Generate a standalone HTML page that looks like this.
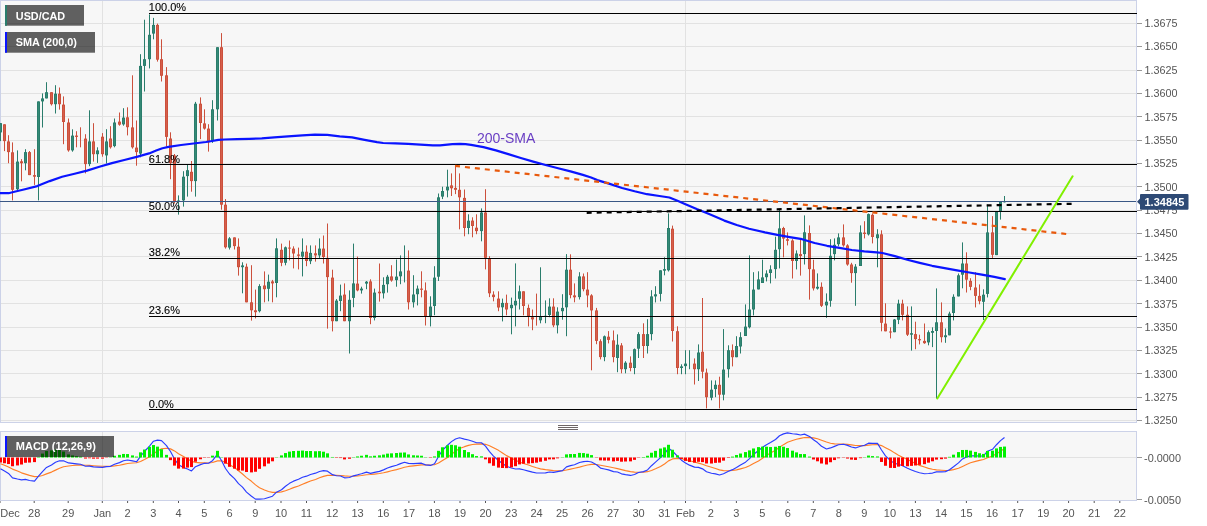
<!DOCTYPE html><html><head><meta charset="utf-8"><title>USD/CAD</title>
<style>html,body{margin:0;padding:0;background:#fff;}body{width:1207px;height:526px;overflow:hidden;}svg{display:block;will-change:transform;}text{font-family:"Liberation Sans",sans-serif;}</style></head><body>
<svg width="1207" height="526" viewBox="0 0 1207 526">
<rect x="0" y="0" width="1207" height="526" fill="#ffffff"/>
<rect x="0.5" y="0.5" width="1136" height="422" fill="#f7f7f7" stroke="#ccd2e8" stroke-width="1"/>
<rect x="0.5" y="431.5" width="1136" height="69" fill="#f7f7f7" stroke="#ccd2e8" stroke-width="1"/>
<line x1="1" y1="23.5" x2="1136" y2="23.5" stroke="#e2e2e2" stroke-width="1"/>
<line x1="1" y1="46.5" x2="1136" y2="46.5" stroke="#e2e2e2" stroke-width="1"/>
<line x1="1" y1="70.5" x2="1136" y2="70.5" stroke="#e2e2e2" stroke-width="1"/>
<line x1="1" y1="93.5" x2="1136" y2="93.5" stroke="#e2e2e2" stroke-width="1"/>
<line x1="1" y1="116.5" x2="1136" y2="116.5" stroke="#e2e2e2" stroke-width="1"/>
<line x1="1" y1="140.5" x2="1136" y2="140.5" stroke="#e2e2e2" stroke-width="1"/>
<line x1="1" y1="163.5" x2="1136" y2="163.5" stroke="#e2e2e2" stroke-width="1"/>
<line x1="1" y1="186.5" x2="1136" y2="186.5" stroke="#e2e2e2" stroke-width="1"/>
<line x1="1" y1="210.5" x2="1136" y2="210.5" stroke="#e2e2e2" stroke-width="1"/>
<line x1="1" y1="233.5" x2="1136" y2="233.5" stroke="#e2e2e2" stroke-width="1"/>
<line x1="1" y1="256.5" x2="1136" y2="256.5" stroke="#e2e2e2" stroke-width="1"/>
<line x1="1" y1="280.5" x2="1136" y2="280.5" stroke="#e2e2e2" stroke-width="1"/>
<line x1="1" y1="303.5" x2="1136" y2="303.5" stroke="#e2e2e2" stroke-width="1"/>
<line x1="1" y1="327.5" x2="1136" y2="327.5" stroke="#e2e2e2" stroke-width="1"/>
<line x1="1" y1="350.5" x2="1136" y2="350.5" stroke="#e2e2e2" stroke-width="1"/>
<line x1="1" y1="373.5" x2="1136" y2="373.5" stroke="#e2e2e2" stroke-width="1"/>
<line x1="1" y1="397.5" x2="1136" y2="397.5" stroke="#e2e2e2" stroke-width="1"/>
<line x1="1" y1="420.5" x2="1136" y2="420.5" stroke="#e2e2e2" stroke-width="1"/>
<line x1="102.5" y1="1" x2="102.5" y2="422" stroke="#e2e2e2" stroke-width="1"/>
<line x1="102.5" y1="432" x2="102.5" y2="500" stroke="#e2e2e2" stroke-width="1"/>
<line x1="685.5" y1="1" x2="685.5" y2="422" stroke="#e2e2e2" stroke-width="1"/>
<line x1="685.5" y1="432" x2="685.5" y2="500" stroke="#e2e2e2" stroke-width="1"/>
<line x1="1" y1="457.5" x2="1136" y2="457.5" stroke="#e2e2e2" stroke-width="1"/>
<g id="candles">
<rect x="0.0" y="123.1" width="1" height="18.0" fill="#2a7d6c"/>
<rect x="-1.0" y="123.1" width="3" height="9.3" fill="#2a7d6c"/>
<rect x="0.0" y="124.1" width="1" height="7.3" fill="#358a76"/>
<rect x="4.0" y="124.3" width="1" height="26.8" fill="#cc503c"/>
<rect x="3.0" y="124.3" width="3" height="16.8" fill="#cc503c"/>
<rect x="4.0" y="125.3" width="1" height="14.8" fill="#d6604c"/>
<rect x="8.0" y="135.2" width="1" height="28.0" fill="#cc503c"/>
<rect x="7.0" y="141.4" width="3" height="10.7" fill="#cc503c"/>
<rect x="8.0" y="142.4" width="1" height="8.7" fill="#d6604c"/>
<rect x="12.0" y="142.4" width="1" height="58.0" fill="#cc503c"/>
<rect x="11.0" y="152.3" width="3" height="37.5" fill="#cc503c"/>
<rect x="12.0" y="153.3" width="1" height="35.5" fill="#d6604c"/>
<rect x="17.0" y="150.4" width="1" height="40.0" fill="#2a7d6c"/>
<rect x="16.0" y="161.6" width="3" height="27.6" fill="#2a7d6c"/>
<rect x="17.0" y="162.6" width="1" height="25.6" fill="#358a76"/>
<rect x="21.0" y="159.1" width="1" height="22.2" fill="#cc503c"/>
<rect x="20.0" y="161.3" width="3" height="1.9" fill="#cc503c"/>
<rect x="25.0" y="149.2" width="1" height="21.1" fill="#2a7d6c"/>
<rect x="24.0" y="152.1" width="3" height="11.1" fill="#2a7d6c"/>
<rect x="25.0" y="153.1" width="1" height="9.1" fill="#358a76"/>
<rect x="29.0" y="151.0" width="1" height="24.1" fill="#cc503c"/>
<rect x="28.0" y="152.1" width="3" height="23.0" fill="#cc503c"/>
<rect x="29.0" y="153.1" width="1" height="21.0" fill="#d6604c"/>
<rect x="34.0" y="149.2" width="1" height="35.7" fill="#cc503c"/>
<rect x="33.0" y="175.1" width="3" height="1.6" fill="#cc503c"/>
<rect x="38.0" y="101.4" width="1" height="99.0" fill="#2a7d6c"/>
<rect x="37.0" y="101.4" width="3" height="75.6" fill="#2a7d6c"/>
<rect x="38.0" y="102.4" width="1" height="73.6" fill="#358a76"/>
<rect x="42.0" y="93.4" width="1" height="34.1" fill="#2a7d6c"/>
<rect x="41.0" y="98.4" width="3" height="3.0" fill="#2a7d6c"/>
<rect x="42.0" y="99.4" width="1" height="1.0" fill="#358a76"/>
<rect x="46.0" y="82.2" width="1" height="16.2" fill="#2a7d6c"/>
<rect x="45.0" y="92.2" width="3" height="6.2" fill="#2a7d6c"/>
<rect x="46.0" y="93.2" width="1" height="4.2" fill="#358a76"/>
<rect x="51.0" y="92.2" width="1" height="13.3" fill="#cc503c"/>
<rect x="50.0" y="92.2" width="3" height="12.0" fill="#cc503c"/>
<rect x="51.0" y="93.2" width="1" height="10.0" fill="#d6604c"/>
<rect x="55.0" y="85.2" width="1" height="28.3" fill="#2a7d6c"/>
<rect x="54.0" y="93.7" width="3" height="10.5" fill="#2a7d6c"/>
<rect x="55.0" y="94.7" width="1" height="8.5" fill="#358a76"/>
<rect x="59.0" y="87.5" width="1" height="22.1" fill="#cc503c"/>
<rect x="58.0" y="93.7" width="3" height="10.5" fill="#cc503c"/>
<rect x="59.0" y="94.7" width="1" height="8.5" fill="#d6604c"/>
<rect x="63.0" y="96.4" width="1" height="47.8" fill="#cc503c"/>
<rect x="62.0" y="104.6" width="3" height="17.4" fill="#cc503c"/>
<rect x="63.0" y="105.6" width="1" height="15.4" fill="#d6604c"/>
<rect x="68.0" y="118.5" width="1" height="33.2" fill="#cc503c"/>
<rect x="67.0" y="122.5" width="3" height="27.9" fill="#cc503c"/>
<rect x="68.0" y="123.5" width="1" height="25.9" fill="#d6604c"/>
<rect x="72.0" y="129.3" width="1" height="22.4" fill="#2a7d6c"/>
<rect x="71.0" y="135.6" width="3" height="14.8" fill="#2a7d6c"/>
<rect x="72.0" y="136.6" width="1" height="12.8" fill="#358a76"/>
<rect x="76.0" y="131.2" width="1" height="16.1" fill="#cc503c"/>
<rect x="75.0" y="135.6" width="3" height="1.3" fill="#cc503c"/>
<rect x="80.0" y="127.3" width="1" height="20.0" fill="#cc503c"/>
<rect x="85.0" y="134.2" width="1" height="39.2" fill="#cc503c"/>
<rect x="84.0" y="138.6" width="3" height="25.5" fill="#cc503c"/>
<rect x="85.0" y="139.6" width="1" height="23.5" fill="#d6604c"/>
<rect x="89.0" y="110.3" width="1" height="55.9" fill="#2a7d6c"/>
<rect x="88.0" y="141.4" width="3" height="22.7" fill="#2a7d6c"/>
<rect x="89.0" y="142.4" width="1" height="20.7" fill="#358a76"/>
<rect x="93.0" y="123.2" width="1" height="38.4" fill="#cc503c"/>
<rect x="92.0" y="141.4" width="3" height="12.8" fill="#cc503c"/>
<rect x="93.0" y="142.4" width="1" height="10.8" fill="#d6604c"/>
<rect x="97.0" y="147.3" width="1" height="15.6" fill="#2a7d6c"/>
<rect x="96.0" y="150.4" width="3" height="3.8" fill="#2a7d6c"/>
<rect x="97.0" y="151.4" width="1" height="1.8" fill="#358a76"/>
<rect x="102.0" y="133.1" width="1" height="23.6" fill="#cc503c"/>
<rect x="101.0" y="136.7" width="3" height="17.5" fill="#cc503c"/>
<rect x="102.0" y="137.7" width="1" height="15.5" fill="#d6604c"/>
<rect x="106.0" y="129.2" width="1" height="34.3" fill="#2a7d6c"/>
<rect x="105.0" y="141.4" width="3" height="14.0" fill="#2a7d6c"/>
<rect x="106.0" y="142.4" width="1" height="12.0" fill="#358a76"/>
<rect x="110.0" y="126.2" width="1" height="22.4" fill="#cc503c"/>
<rect x="109.0" y="138.5" width="3" height="8.8" fill="#cc503c"/>
<rect x="110.0" y="139.5" width="1" height="6.8" fill="#d6604c"/>
<rect x="114.0" y="118.5" width="1" height="28.8" fill="#2a7d6c"/>
<rect x="113.0" y="122.5" width="3" height="23.6" fill="#2a7d6c"/>
<rect x="114.0" y="123.5" width="1" height="21.6" fill="#358a76"/>
<rect x="119.0" y="112.5" width="1" height="13.2" fill="#cc503c"/>
<rect x="118.0" y="121.6" width="3" height="3.1" fill="#cc503c"/>
<rect x="119.0" y="122.6" width="1" height="1.1" fill="#d6604c"/>
<rect x="123.0" y="108.2" width="1" height="17.5" fill="#2a7d6c"/>
<rect x="122.0" y="117.6" width="3" height="6.8" fill="#2a7d6c"/>
<rect x="123.0" y="118.6" width="1" height="4.8" fill="#358a76"/>
<rect x="127.0" y="107.3" width="1" height="28.1" fill="#cc503c"/>
<rect x="126.0" y="117.3" width="3" height="9.9" fill="#cc503c"/>
<rect x="127.0" y="118.3" width="1" height="7.9" fill="#d6604c"/>
<rect x="132.0" y="75.3" width="1" height="73.3" fill="#cc503c"/>
<rect x="131.0" y="127.4" width="3" height="19.9" fill="#cc503c"/>
<rect x="132.0" y="128.4" width="1" height="17.9" fill="#d6604c"/>
<rect x="136.0" y="120.5" width="1" height="45.2" fill="#cc503c"/>
<rect x="135.0" y="147.6" width="3" height="4.5" fill="#cc503c"/>
<rect x="136.0" y="148.6" width="1" height="2.5" fill="#d6604c"/>
<rect x="140.0" y="54.2" width="1" height="103.1" fill="#2a7d6c"/>
<rect x="139.0" y="65.9" width="3" height="87.7" fill="#2a7d6c"/>
<rect x="140.0" y="66.9" width="1" height="85.7" fill="#358a76"/>
<rect x="144.0" y="19.7" width="1" height="71.8" fill="#2a7d6c"/>
<rect x="143.0" y="59.2" width="3" height="6.7" fill="#2a7d6c"/>
<rect x="144.0" y="60.2" width="1" height="4.7" fill="#358a76"/>
<rect x="149.0" y="14.4" width="1" height="54.0" fill="#2a7d6c"/>
<rect x="148.0" y="34.8" width="3" height="24.4" fill="#2a7d6c"/>
<rect x="149.0" y="35.8" width="1" height="22.4" fill="#358a76"/>
<rect x="153.0" y="17.9" width="1" height="21.4" fill="#2a7d6c"/>
<rect x="152.0" y="24.9" width="3" height="8.7" fill="#2a7d6c"/>
<rect x="153.0" y="25.9" width="1" height="6.7" fill="#358a76"/>
<rect x="157.0" y="23.6" width="1" height="38.0" fill="#cc503c"/>
<rect x="156.0" y="24.9" width="3" height="34.8" fill="#cc503c"/>
<rect x="157.0" y="25.9" width="1" height="32.8" fill="#d6604c"/>
<rect x="161.0" y="39.3" width="1" height="42.2" fill="#cc503c"/>
<rect x="160.0" y="59.2" width="3" height="16.6" fill="#cc503c"/>
<rect x="161.0" y="60.2" width="1" height="14.6" fill="#d6604c"/>
<rect x="166.0" y="67.1" width="1" height="79.5" fill="#cc503c"/>
<rect x="165.0" y="75.3" width="3" height="61.6" fill="#cc503c"/>
<rect x="166.0" y="76.3" width="1" height="59.6" fill="#d6604c"/>
<rect x="170.0" y="132.3" width="1" height="46.9" fill="#cc503c"/>
<rect x="169.0" y="138.5" width="3" height="24.6" fill="#cc503c"/>
<rect x="170.0" y="139.5" width="1" height="22.6" fill="#d6604c"/>
<rect x="174.0" y="154.0" width="1" height="49.6" fill="#cc503c"/>
<rect x="173.0" y="155.5" width="3" height="46.1" fill="#cc503c"/>
<rect x="174.0" y="156.5" width="1" height="44.1" fill="#d6604c"/>
<rect x="178.0" y="195.4" width="1" height="19.2" fill="#2a7d6c"/>
<rect x="177.0" y="200.5" width="3" height="1.5" fill="#2a7d6c"/>
<rect x="183.0" y="171.2" width="1" height="35.4" fill="#2a7d6c"/>
<rect x="182.0" y="176.7" width="3" height="23.7" fill="#2a7d6c"/>
<rect x="183.0" y="177.7" width="1" height="21.7" fill="#358a76"/>
<rect x="187.0" y="164.9" width="1" height="31.7" fill="#2a7d6c"/>
<rect x="186.0" y="170.2" width="3" height="5.9" fill="#2a7d6c"/>
<rect x="187.0" y="171.2" width="1" height="3.9" fill="#358a76"/>
<rect x="191.0" y="161.0" width="1" height="30.7" fill="#cc503c"/>
<rect x="190.0" y="171.8" width="3" height="9.3" fill="#cc503c"/>
<rect x="191.0" y="172.8" width="1" height="7.3" fill="#d6604c"/>
<rect x="195.0" y="101.9" width="1" height="94.7" fill="#2a7d6c"/>
<rect x="194.0" y="103.7" width="3" height="77.4" fill="#2a7d6c"/>
<rect x="195.0" y="104.7" width="1" height="75.4" fill="#358a76"/>
<rect x="200.0" y="97.4" width="1" height="41.7" fill="#cc503c"/>
<rect x="199.0" y="103.7" width="3" height="19.3" fill="#cc503c"/>
<rect x="200.0" y="104.7" width="1" height="17.3" fill="#d6604c"/>
<rect x="204.0" y="109.3" width="1" height="20.3" fill="#cc503c"/>
<rect x="203.0" y="123.4" width="3" height="5.2" fill="#cc503c"/>
<rect x="204.0" y="124.4" width="1" height="3.2" fill="#d6604c"/>
<rect x="208.0" y="124.2" width="1" height="27.4" fill="#cc503c"/>
<rect x="207.0" y="128.6" width="3" height="13.7" fill="#cc503c"/>
<rect x="208.0" y="129.6" width="1" height="11.7" fill="#d6604c"/>
<rect x="212.0" y="100.2" width="1" height="42.7" fill="#2a7d6c"/>
<rect x="211.0" y="109.3" width="3" height="31.7" fill="#2a7d6c"/>
<rect x="212.0" y="110.3" width="1" height="29.7" fill="#358a76"/>
<rect x="217.0" y="47.2" width="1" height="73.3" fill="#2a7d6c"/>
<rect x="216.0" y="47.2" width="3" height="62.1" fill="#2a7d6c"/>
<rect x="217.0" y="48.2" width="1" height="60.1" fill="#358a76"/>
<rect x="221.0" y="33.1" width="1" height="176.6" fill="#cc503c"/>
<rect x="220.0" y="47.2" width="3" height="157.5" fill="#cc503c"/>
<rect x="221.0" y="48.2" width="1" height="155.5" fill="#d6604c"/>
<rect x="225.0" y="199.1" width="1" height="49.5" fill="#cc503c"/>
<rect x="224.0" y="204.7" width="3" height="42.6" fill="#cc503c"/>
<rect x="225.0" y="205.7" width="1" height="40.6" fill="#d6604c"/>
<rect x="229.0" y="237.1" width="1" height="12.4" fill="#2a7d6c"/>
<rect x="228.0" y="238.4" width="3" height="9.2" fill="#2a7d6c"/>
<rect x="229.0" y="239.4" width="1" height="7.2" fill="#358a76"/>
<rect x="234.0" y="237.4" width="1" height="12.1" fill="#cc503c"/>
<rect x="233.0" y="237.4" width="3" height="8.7" fill="#cc503c"/>
<rect x="234.0" y="238.4" width="1" height="6.7" fill="#d6604c"/>
<rect x="238.0" y="238.4" width="1" height="37.2" fill="#cc503c"/>
<rect x="237.0" y="246.7" width="3" height="20.5" fill="#cc503c"/>
<rect x="238.0" y="247.7" width="1" height="18.5" fill="#d6604c"/>
<rect x="242.0" y="262.3" width="1" height="31.0" fill="#2a7d6c"/>
<rect x="241.0" y="265.4" width="3" height="1.8" fill="#2a7d6c"/>
<rect x="246.0" y="263.6" width="1" height="38.7" fill="#cc503c"/>
<rect x="245.0" y="266.7" width="3" height="35.6" fill="#cc503c"/>
<rect x="246.0" y="267.7" width="1" height="33.6" fill="#d6604c"/>
<rect x="251.0" y="265.2" width="1" height="55.4" fill="#cc503c"/>
<rect x="250.0" y="302.3" width="3" height="8.0" fill="#cc503c"/>
<rect x="251.0" y="303.3" width="1" height="6.0" fill="#d6604c"/>
<rect x="255.0" y="289.6" width="1" height="28.8" fill="#cc503c"/>
<rect x="254.0" y="310.3" width="3" height="1.9" fill="#cc503c"/>
<rect x="259.0" y="284.2" width="1" height="28.2" fill="#2a7d6c"/>
<rect x="258.0" y="286.1" width="3" height="25.1" fill="#2a7d6c"/>
<rect x="259.0" y="287.1" width="1" height="23.1" fill="#358a76"/>
<rect x="264.0" y="271.4" width="1" height="30.9" fill="#cc503c"/>
<rect x="263.0" y="285.5" width="3" height="3.7" fill="#cc503c"/>
<rect x="264.0" y="286.5" width="1" height="1.7" fill="#d6604c"/>
<rect x="268.0" y="274.6" width="1" height="26.7" fill="#2a7d6c"/>
<rect x="267.0" y="281.7" width="3" height="7.1" fill="#2a7d6c"/>
<rect x="268.0" y="282.7" width="1" height="5.1" fill="#358a76"/>
<rect x="272.0" y="279.9" width="1" height="22.4" fill="#cc503c"/>
<rect x="271.0" y="281.4" width="3" height="2.0" fill="#cc503c"/>
<rect x="276.0" y="238.4" width="1" height="58.9" fill="#2a7d6c"/>
<rect x="275.0" y="248.3" width="3" height="34.7" fill="#2a7d6c"/>
<rect x="276.0" y="249.3" width="1" height="32.7" fill="#358a76"/>
<rect x="281.0" y="243.6" width="1" height="22.6" fill="#cc503c"/>
<rect x="280.0" y="249.8" width="3" height="13.0" fill="#cc503c"/>
<rect x="281.0" y="250.8" width="1" height="11.0" fill="#d6604c"/>
<rect x="285.0" y="246.5" width="1" height="18.8" fill="#2a7d6c"/>
<rect x="284.0" y="247.3" width="3" height="15.5" fill="#2a7d6c"/>
<rect x="285.0" y="248.3" width="1" height="13.5" fill="#358a76"/>
<rect x="289.0" y="240.5" width="1" height="19.9" fill="#cc503c"/>
<rect x="288.0" y="247.6" width="3" height="1.0" fill="#cc503c"/>
<rect x="293.0" y="246.3" width="1" height="22.1" fill="#cc503c"/>
<rect x="292.0" y="248.6" width="3" height="4.9" fill="#cc503c"/>
<rect x="293.0" y="249.6" width="1" height="2.9" fill="#d6604c"/>
<rect x="298.0" y="247.6" width="1" height="21.8" fill="#cc503c"/>
<rect x="297.0" y="254.5" width="3" height="1.3" fill="#cc503c"/>
<rect x="302.0" y="238.4" width="1" height="38.0" fill="#2a7d6c"/>
<rect x="301.0" y="251.7" width="3" height="4.9" fill="#2a7d6c"/>
<rect x="302.0" y="252.7" width="1" height="2.9" fill="#358a76"/>
<rect x="306.0" y="245.4" width="1" height="20.8" fill="#cc503c"/>
<rect x="305.0" y="251.7" width="3" height="9.3" fill="#cc503c"/>
<rect x="306.0" y="252.7" width="1" height="7.3" fill="#d6604c"/>
<rect x="310.0" y="245.4" width="1" height="18.7" fill="#2a7d6c"/>
<rect x="309.0" y="252.9" width="3" height="8.3" fill="#2a7d6c"/>
<rect x="310.0" y="253.9" width="1" height="6.3" fill="#358a76"/>
<rect x="315.0" y="245.4" width="1" height="16.2" fill="#cc503c"/>
<rect x="314.0" y="253.3" width="3" height="2.1" fill="#cc503c"/>
<rect x="319.0" y="238.4" width="1" height="19.5" fill="#2a7d6c"/>
<rect x="318.0" y="248.6" width="3" height="6.8" fill="#2a7d6c"/>
<rect x="319.0" y="249.6" width="1" height="4.8" fill="#358a76"/>
<rect x="323.0" y="235.5" width="1" height="28.0" fill="#cc503c"/>
<rect x="322.0" y="248.6" width="3" height="8.4" fill="#cc503c"/>
<rect x="323.0" y="249.6" width="1" height="6.4" fill="#d6604c"/>
<rect x="327.0" y="223.5" width="1" height="105.1" fill="#cc503c"/>
<rect x="326.0" y="257.9" width="3" height="19.2" fill="#cc503c"/>
<rect x="327.0" y="258.9" width="1" height="17.2" fill="#d6604c"/>
<rect x="332.0" y="269.7" width="1" height="61.7" fill="#cc503c"/>
<rect x="331.0" y="277.6" width="3" height="43.6" fill="#cc503c"/>
<rect x="332.0" y="278.6" width="1" height="41.6" fill="#d6604c"/>
<rect x="336.0" y="299.1" width="1" height="22.1" fill="#2a7d6c"/>
<rect x="335.0" y="300.6" width="3" height="20.6" fill="#2a7d6c"/>
<rect x="336.0" y="301.6" width="1" height="18.6" fill="#358a76"/>
<rect x="340.0" y="284.6" width="1" height="26.6" fill="#2a7d6c"/>
<rect x="339.0" y="295.6" width="3" height="5.4" fill="#2a7d6c"/>
<rect x="340.0" y="296.6" width="1" height="3.4" fill="#358a76"/>
<rect x="344.0" y="283.4" width="1" height="37.8" fill="#cc503c"/>
<rect x="343.0" y="294.6" width="3" height="26.6" fill="#cc503c"/>
<rect x="344.0" y="295.6" width="1" height="24.6" fill="#d6604c"/>
<rect x="349.0" y="290.4" width="1" height="63.1" fill="#2a7d6c"/>
<rect x="348.0" y="299.8" width="3" height="21.4" fill="#2a7d6c"/>
<rect x="349.0" y="300.8" width="1" height="19.4" fill="#358a76"/>
<rect x="353.0" y="243.6" width="1" height="63.6" fill="#2a7d6c"/>
<rect x="352.0" y="283.4" width="3" height="14.5" fill="#2a7d6c"/>
<rect x="353.0" y="284.4" width="1" height="12.5" fill="#358a76"/>
<rect x="357.0" y="256.6" width="1" height="34.7" fill="#cc503c"/>
<rect x="356.0" y="283.6" width="3" height="6.8" fill="#cc503c"/>
<rect x="357.0" y="284.6" width="1" height="4.8" fill="#d6604c"/>
<rect x="361.0" y="286.7" width="1" height="6.9" fill="#2a7d6c"/>
<rect x="360.0" y="288.6" width="3" height="1.8" fill="#2a7d6c"/>
<rect x="366.0" y="281.0" width="1" height="8.2" fill="#2a7d6c"/>
<rect x="365.0" y="281.7" width="3" height="1.9" fill="#2a7d6c"/>
<rect x="370.0" y="279.3" width="1" height="44.9" fill="#cc503c"/>
<rect x="369.0" y="281.4" width="3" height="36.6" fill="#cc503c"/>
<rect x="370.0" y="282.4" width="1" height="34.6" fill="#d6604c"/>
<rect x="374.0" y="288.6" width="1" height="31.8" fill="#2a7d6c"/>
<rect x="373.0" y="292.6" width="3" height="25.4" fill="#2a7d6c"/>
<rect x="374.0" y="293.6" width="1" height="23.4" fill="#358a76"/>
<rect x="379.0" y="263.5" width="1" height="38.1" fill="#cc503c"/>
<rect x="378.0" y="291.7" width="3" height="1.6" fill="#cc503c"/>
<rect x="383.0" y="277.3" width="1" height="21.2" fill="#2a7d6c"/>
<rect x="382.0" y="284.9" width="3" height="8.4" fill="#2a7d6c"/>
<rect x="383.0" y="285.9" width="1" height="6.4" fill="#358a76"/>
<rect x="387.0" y="274.9" width="1" height="17.7" fill="#2a7d6c"/>
<rect x="386.0" y="276.7" width="3" height="7.5" fill="#2a7d6c"/>
<rect x="387.0" y="277.7" width="1" height="5.5" fill="#358a76"/>
<rect x="391.0" y="265.2" width="1" height="16.5" fill="#cc503c"/>
<rect x="390.0" y="276.4" width="3" height="4.1" fill="#cc503c"/>
<rect x="391.0" y="277.4" width="1" height="2.1" fill="#d6604c"/>
<rect x="396.0" y="259.5" width="1" height="27.2" fill="#2a7d6c"/>
<rect x="395.0" y="276.6" width="3" height="3.5" fill="#2a7d6c"/>
<rect x="396.0" y="277.6" width="1" height="1.5" fill="#358a76"/>
<rect x="400.0" y="255.4" width="1" height="28.8" fill="#2a7d6c"/>
<rect x="399.0" y="271.4" width="3" height="4.9" fill="#2a7d6c"/>
<rect x="400.0" y="272.4" width="1" height="2.9" fill="#358a76"/>
<rect x="404.0" y="245.4" width="1" height="37.0" fill="#2a7d6c"/>
<rect x="408.0" y="250.4" width="1" height="59.1" fill="#cc503c"/>
<rect x="407.0" y="270.6" width="3" height="31.7" fill="#cc503c"/>
<rect x="408.0" y="271.6" width="1" height="29.7" fill="#d6604c"/>
<rect x="413.0" y="275.2" width="1" height="32.3" fill="#2a7d6c"/>
<rect x="412.0" y="294.5" width="3" height="7.8" fill="#2a7d6c"/>
<rect x="413.0" y="295.5" width="1" height="5.8" fill="#358a76"/>
<rect x="417.0" y="285.5" width="1" height="19.9" fill="#2a7d6c"/>
<rect x="416.0" y="288.6" width="3" height="5.6" fill="#2a7d6c"/>
<rect x="417.0" y="289.6" width="1" height="3.6" fill="#358a76"/>
<rect x="421.0" y="271.3" width="1" height="26.0" fill="#cc503c"/>
<rect x="420.0" y="288.6" width="3" height="1.2" fill="#cc503c"/>
<rect x="425.0" y="282.4" width="1" height="43.1" fill="#cc503c"/>
<rect x="424.0" y="290.4" width="3" height="25.8" fill="#cc503c"/>
<rect x="425.0" y="291.4" width="1" height="23.8" fill="#d6604c"/>
<rect x="430.0" y="296.3" width="1" height="30.1" fill="#2a7d6c"/>
<rect x="429.0" y="306.6" width="3" height="9.6" fill="#2a7d6c"/>
<rect x="430.0" y="307.6" width="1" height="7.6" fill="#358a76"/>
<rect x="434.0" y="266.2" width="1" height="49.0" fill="#2a7d6c"/>
<rect x="433.0" y="277.6" width="3" height="28.4" fill="#2a7d6c"/>
<rect x="434.0" y="278.6" width="1" height="26.4" fill="#358a76"/>
<rect x="438.0" y="193.5" width="1" height="87.5" fill="#2a7d6c"/>
<rect x="437.0" y="197.3" width="3" height="79.4" fill="#2a7d6c"/>
<rect x="438.0" y="198.3" width="1" height="77.4" fill="#358a76"/>
<rect x="442.0" y="186.7" width="1" height="12.4" fill="#2a7d6c"/>
<rect x="441.0" y="191.0" width="3" height="5.6" fill="#2a7d6c"/>
<rect x="442.0" y="192.0" width="1" height="3.6" fill="#358a76"/>
<rect x="447.0" y="169.7" width="1" height="27.6" fill="#2a7d6c"/>
<rect x="446.0" y="186.7" width="3" height="3.7" fill="#2a7d6c"/>
<rect x="447.0" y="187.7" width="1" height="1.7" fill="#358a76"/>
<rect x="451.0" y="173.4" width="1" height="22.6" fill="#cc503c"/>
<rect x="450.0" y="185.4" width="3" height="2.9" fill="#cc503c"/>
<rect x="451.0" y="186.4" width="1" height="0.9" fill="#d6604c"/>
<rect x="455.0" y="165.9" width="1" height="28.2" fill="#cc503c"/>
<rect x="454.0" y="187.9" width="3" height="1.9" fill="#cc503c"/>
<rect x="459.0" y="173.4" width="1" height="55.9" fill="#cc503c"/>
<rect x="458.0" y="189.8" width="3" height="7.5" fill="#cc503c"/>
<rect x="459.0" y="190.8" width="1" height="5.5" fill="#d6604c"/>
<rect x="464.0" y="189.5" width="1" height="46.8" fill="#cc503c"/>
<rect x="463.0" y="197.9" width="3" height="30.1" fill="#cc503c"/>
<rect x="464.0" y="198.9" width="1" height="28.1" fill="#d6604c"/>
<rect x="468.0" y="214.3" width="1" height="19.9" fill="#2a7d6c"/>
<rect x="467.0" y="220.7" width="3" height="7.3" fill="#2a7d6c"/>
<rect x="468.0" y="221.7" width="1" height="5.3" fill="#358a76"/>
<rect x="472.0" y="217.3" width="1" height="20.0" fill="#cc503c"/>
<rect x="471.0" y="220.6" width="3" height="5.4" fill="#cc503c"/>
<rect x="472.0" y="221.6" width="1" height="3.4" fill="#d6604c"/>
<rect x="476.0" y="214.3" width="1" height="19.9" fill="#cc503c"/>
<rect x="475.0" y="227.7" width="3" height="3.4" fill="#cc503c"/>
<rect x="476.0" y="228.7" width="1" height="1.4" fill="#d6604c"/>
<rect x="481.0" y="208.4" width="1" height="32.9" fill="#2a7d6c"/>
<rect x="480.0" y="212.5" width="3" height="18.6" fill="#2a7d6c"/>
<rect x="481.0" y="213.5" width="1" height="16.6" fill="#358a76"/>
<rect x="485.0" y="189.2" width="1" height="80.2" fill="#cc503c"/>
<rect x="484.0" y="212.5" width="3" height="45.3" fill="#cc503c"/>
<rect x="485.0" y="213.5" width="1" height="43.3" fill="#d6604c"/>
<rect x="489.0" y="256.2" width="1" height="40.9" fill="#cc503c"/>
<rect x="488.0" y="258.7" width="3" height="34.6" fill="#cc503c"/>
<rect x="489.0" y="259.7" width="1" height="32.6" fill="#d6604c"/>
<rect x="493.0" y="291.3" width="1" height="10.0" fill="#cc503c"/>
<rect x="492.0" y="294.6" width="3" height="2.5" fill="#cc503c"/>
<rect x="498.0" y="291.3" width="1" height="19.9" fill="#cc503c"/>
<rect x="497.0" y="298.6" width="3" height="8.9" fill="#cc503c"/>
<rect x="498.0" y="299.6" width="1" height="6.9" fill="#d6604c"/>
<rect x="502.0" y="298.6" width="1" height="22.8" fill="#2a7d6c"/>
<rect x="501.0" y="302.9" width="3" height="4.4" fill="#2a7d6c"/>
<rect x="502.0" y="303.9" width="1" height="2.4" fill="#358a76"/>
<rect x="506.0" y="294.6" width="1" height="20.7" fill="#cc503c"/>
<rect x="505.0" y="302.9" width="3" height="6.6" fill="#cc503c"/>
<rect x="506.0" y="303.9" width="1" height="4.6" fill="#d6604c"/>
<rect x="511.0" y="297.6" width="1" height="36.7" fill="#2a7d6c"/>
<rect x="510.0" y="304.8" width="3" height="3.4" fill="#2a7d6c"/>
<rect x="511.0" y="305.8" width="1" height="1.4" fill="#358a76"/>
<rect x="515.0" y="263.4" width="1" height="63.0" fill="#2a7d6c"/>
<rect x="514.0" y="300.8" width="3" height="4.6" fill="#2a7d6c"/>
<rect x="515.0" y="301.8" width="1" height="2.6" fill="#358a76"/>
<rect x="519.0" y="285.5" width="1" height="24.0" fill="#2a7d6c"/>
<rect x="518.0" y="291.3" width="3" height="7.5" fill="#2a7d6c"/>
<rect x="519.0" y="292.3" width="1" height="5.5" fill="#358a76"/>
<rect x="523.0" y="291.3" width="1" height="24.0" fill="#cc503c"/>
<rect x="522.0" y="291.3" width="3" height="14.7" fill="#cc503c"/>
<rect x="523.0" y="292.3" width="1" height="12.7" fill="#d6604c"/>
<rect x="528.0" y="304.5" width="1" height="21.9" fill="#cc503c"/>
<rect x="527.0" y="307.9" width="3" height="8.3" fill="#cc503c"/>
<rect x="528.0" y="308.9" width="1" height="6.3" fill="#d6604c"/>
<rect x="532.0" y="309.5" width="1" height="20.7" fill="#cc503c"/>
<rect x="531.0" y="317.2" width="3" height="2.2" fill="#cc503c"/>
<rect x="536.0" y="293.6" width="1" height="32.0" fill="#cc503c"/>
<rect x="540.0" y="267.3" width="1" height="56.0" fill="#2a7d6c"/>
<rect x="539.0" y="316.0" width="3" height="4.3" fill="#2a7d6c"/>
<rect x="540.0" y="317.0" width="1" height="2.3" fill="#358a76"/>
<rect x="545.0" y="300.4" width="1" height="22.8" fill="#2a7d6c"/>
<rect x="544.0" y="315.8" width="3" height="0.8" fill="#2a7d6c"/>
<rect x="549.0" y="298.3" width="1" height="18.9" fill="#2a7d6c"/>
<rect x="548.0" y="306.6" width="3" height="8.4" fill="#2a7d6c"/>
<rect x="549.0" y="307.6" width="1" height="6.4" fill="#358a76"/>
<rect x="553.0" y="298.3" width="1" height="28.9" fill="#cc503c"/>
<rect x="552.0" y="306.6" width="3" height="18.7" fill="#cc503c"/>
<rect x="553.0" y="307.6" width="1" height="16.7" fill="#d6604c"/>
<rect x="557.0" y="307.3" width="1" height="26.1" fill="#2a7d6c"/>
<rect x="556.0" y="311.6" width="3" height="13.7" fill="#2a7d6c"/>
<rect x="557.0" y="312.6" width="1" height="11.7" fill="#358a76"/>
<rect x="562.0" y="294.2" width="1" height="25.5" fill="#2a7d6c"/>
<rect x="561.0" y="307.9" width="3" height="3.3" fill="#2a7d6c"/>
<rect x="562.0" y="308.9" width="1" height="1.3" fill="#358a76"/>
<rect x="566.0" y="254.1" width="1" height="82.1" fill="#2a7d6c"/>
<rect x="565.0" y="269.7" width="3" height="37.6" fill="#2a7d6c"/>
<rect x="566.0" y="270.7" width="1" height="35.6" fill="#358a76"/>
<rect x="570.0" y="254.3" width="1" height="44.0" fill="#cc503c"/>
<rect x="569.0" y="269.7" width="3" height="25.4" fill="#cc503c"/>
<rect x="570.0" y="270.7" width="1" height="23.4" fill="#d6604c"/>
<rect x="574.0" y="283.4" width="1" height="18.9" fill="#cc503c"/>
<rect x="573.0" y="295.4" width="3" height="1.9" fill="#cc503c"/>
<rect x="579.0" y="272.2" width="1" height="27.3" fill="#2a7d6c"/>
<rect x="578.0" y="276.4" width="3" height="20.7" fill="#2a7d6c"/>
<rect x="579.0" y="277.4" width="1" height="18.7" fill="#358a76"/>
<rect x="583.0" y="273.5" width="1" height="17.8" fill="#cc503c"/>
<rect x="582.0" y="276.4" width="3" height="12.8" fill="#cc503c"/>
<rect x="583.0" y="277.4" width="1" height="10.8" fill="#d6604c"/>
<rect x="587.0" y="272.2" width="1" height="35.1" fill="#cc503c"/>
<rect x="586.0" y="289.6" width="3" height="5.8" fill="#cc503c"/>
<rect x="587.0" y="290.6" width="1" height="3.8" fill="#d6604c"/>
<rect x="591.0" y="294.2" width="1" height="76.1" fill="#cc503c"/>
<rect x="590.0" y="295.4" width="3" height="15.0" fill="#cc503c"/>
<rect x="591.0" y="296.4" width="1" height="13.0" fill="#d6604c"/>
<rect x="596.0" y="307.9" width="1" height="36.3" fill="#cc503c"/>
<rect x="595.0" y="310.4" width="3" height="30.5" fill="#cc503c"/>
<rect x="596.0" y="311.4" width="1" height="28.5" fill="#d6604c"/>
<rect x="600.0" y="339.3" width="1" height="20.1" fill="#cc503c"/>
<rect x="599.0" y="341.2" width="3" height="15.9" fill="#cc503c"/>
<rect x="600.0" y="342.2" width="1" height="13.9" fill="#d6604c"/>
<rect x="604.0" y="335.5" width="1" height="25.7" fill="#2a7d6c"/>
<rect x="603.0" y="336.3" width="3" height="20.8" fill="#2a7d6c"/>
<rect x="604.0" y="337.3" width="1" height="18.8" fill="#358a76"/>
<rect x="608.0" y="331.1" width="1" height="12.3" fill="#cc503c"/>
<rect x="607.0" y="336.7" width="3" height="3.2" fill="#cc503c"/>
<rect x="608.0" y="337.7" width="1" height="1.2" fill="#d6604c"/>
<rect x="613.0" y="330.5" width="1" height="31.8" fill="#cc503c"/>
<rect x="612.0" y="340.4" width="3" height="16.7" fill="#cc503c"/>
<rect x="613.0" y="341.4" width="1" height="14.7" fill="#d6604c"/>
<rect x="617.0" y="334.4" width="1" height="37.8" fill="#2a7d6c"/>
<rect x="616.0" y="344.7" width="3" height="13.3" fill="#2a7d6c"/>
<rect x="617.0" y="345.7" width="1" height="11.3" fill="#358a76"/>
<rect x="621.0" y="343.1" width="1" height="30.2" fill="#cc503c"/>
<rect x="620.0" y="345.4" width="3" height="23.8" fill="#cc503c"/>
<rect x="621.0" y="346.4" width="1" height="21.8" fill="#d6604c"/>
<rect x="625.0" y="361.2" width="1" height="12.1" fill="#2a7d6c"/>
<rect x="624.0" y="362.7" width="3" height="6.5" fill="#2a7d6c"/>
<rect x="625.0" y="363.7" width="1" height="4.5" fill="#358a76"/>
<rect x="630.0" y="356.4" width="1" height="14.9" fill="#cc503c"/>
<rect x="629.0" y="362.7" width="3" height="5.3" fill="#cc503c"/>
<rect x="630.0" y="363.7" width="1" height="3.3" fill="#d6604c"/>
<rect x="634.0" y="348.5" width="1" height="25.7" fill="#2a7d6c"/>
<rect x="633.0" y="349.2" width="3" height="18.8" fill="#2a7d6c"/>
<rect x="634.0" y="350.2" width="1" height="16.8" fill="#358a76"/>
<rect x="638.0" y="332.2" width="1" height="25.8" fill="#2a7d6c"/>
<rect x="637.0" y="334.1" width="3" height="14.6" fill="#2a7d6c"/>
<rect x="638.0" y="335.1" width="1" height="12.6" fill="#358a76"/>
<rect x="643.0" y="323.3" width="1" height="34.7" fill="#cc503c"/>
<rect x="642.0" y="334.1" width="3" height="11.9" fill="#cc503c"/>
<rect x="643.0" y="335.1" width="1" height="9.9" fill="#d6604c"/>
<rect x="647.0" y="319.2" width="1" height="34.3" fill="#2a7d6c"/>
<rect x="646.0" y="334.1" width="3" height="11.9" fill="#2a7d6c"/>
<rect x="647.0" y="335.1" width="1" height="9.9" fill="#358a76"/>
<rect x="651.0" y="290.2" width="1" height="50.1" fill="#2a7d6c"/>
<rect x="650.0" y="296.4" width="3" height="37.7" fill="#2a7d6c"/>
<rect x="651.0" y="297.4" width="1" height="35.7" fill="#358a76"/>
<rect x="655.0" y="286.2" width="1" height="16.2" fill="#2a7d6c"/>
<rect x="654.0" y="294.3" width="3" height="2.1" fill="#2a7d6c"/>
<rect x="660.0" y="270.3" width="1" height="31.1" fill="#2a7d6c"/>
<rect x="659.0" y="270.3" width="3" height="23.6" fill="#2a7d6c"/>
<rect x="660.0" y="271.3" width="1" height="21.6" fill="#358a76"/>
<rect x="664.0" y="257.3" width="1" height="18.0" fill="#2a7d6c"/>
<rect x="663.0" y="269.1" width="3" height="1.6" fill="#2a7d6c"/>
<rect x="668.0" y="213.4" width="1" height="58.1" fill="#2a7d6c"/>
<rect x="667.0" y="228.0" width="3" height="42.3" fill="#2a7d6c"/>
<rect x="668.0" y="229.0" width="1" height="40.3" fill="#358a76"/>
<rect x="672.0" y="225.6" width="1" height="115.9" fill="#cc503c"/>
<rect x="671.0" y="228.7" width="3" height="102.3" fill="#cc503c"/>
<rect x="672.0" y="229.7" width="1" height="100.3" fill="#d6604c"/>
<rect x="677.0" y="326.3" width="1" height="47.9" fill="#cc503c"/>
<rect x="676.0" y="331.2" width="3" height="36.8" fill="#cc503c"/>
<rect x="677.0" y="332.2" width="1" height="34.8" fill="#d6604c"/>
<rect x="681.0" y="364.3" width="1" height="9.9" fill="#2a7d6c"/>
<rect x="680.0" y="366.4" width="3" height="1.6" fill="#2a7d6c"/>
<rect x="685.0" y="350.2" width="1" height="24.0" fill="#2a7d6c"/>
<rect x="684.0" y="363.6" width="3" height="2.5" fill="#2a7d6c"/>
<rect x="689.0" y="350.2" width="1" height="19.0" fill="#2a7d6c"/>
<rect x="694.0" y="358.4" width="1" height="26.1" fill="#cc503c"/>
<rect x="693.0" y="363.6" width="3" height="5.6" fill="#cc503c"/>
<rect x="694.0" y="364.6" width="1" height="3.6" fill="#d6604c"/>
<rect x="698.0" y="344.4" width="1" height="36.6" fill="#2a7d6c"/>
<rect x="697.0" y="352.5" width="3" height="16.7" fill="#2a7d6c"/>
<rect x="698.0" y="353.5" width="1" height="14.7" fill="#358a76"/>
<rect x="702.0" y="298.0" width="1" height="80.3" fill="#cc503c"/>
<rect x="701.0" y="351.8" width="3" height="19.9" fill="#cc503c"/>
<rect x="702.0" y="352.8" width="1" height="17.9" fill="#d6604c"/>
<rect x="706.0" y="368.6" width="1" height="39.8" fill="#cc503c"/>
<rect x="705.0" y="372.6" width="3" height="24.6" fill="#cc503c"/>
<rect x="706.0" y="373.6" width="1" height="22.6" fill="#d6604c"/>
<rect x="711.0" y="380.4" width="1" height="19.9" fill="#2a7d6c"/>
<rect x="710.0" y="389.7" width="3" height="8.1" fill="#2a7d6c"/>
<rect x="711.0" y="390.7" width="1" height="6.1" fill="#358a76"/>
<rect x="715.0" y="380.4" width="1" height="16.8" fill="#2a7d6c"/>
<rect x="714.0" y="384.8" width="3" height="4.3" fill="#2a7d6c"/>
<rect x="715.0" y="385.8" width="1" height="2.3" fill="#358a76"/>
<rect x="719.0" y="376.7" width="1" height="31.7" fill="#cc503c"/>
<rect x="718.0" y="384.8" width="3" height="9.9" fill="#cc503c"/>
<rect x="719.0" y="385.8" width="1" height="7.9" fill="#d6604c"/>
<rect x="723.0" y="329.1" width="1" height="71.2" fill="#2a7d6c"/>
<rect x="722.0" y="369.6" width="3" height="25.1" fill="#2a7d6c"/>
<rect x="723.0" y="370.6" width="1" height="23.1" fill="#358a76"/>
<rect x="728.0" y="345.3" width="1" height="32.3" fill="#2a7d6c"/>
<rect x="727.0" y="350.2" width="3" height="19.0" fill="#2a7d6c"/>
<rect x="728.0" y="351.2" width="1" height="17.0" fill="#358a76"/>
<rect x="732.0" y="344.4" width="1" height="22.0" fill="#cc503c"/>
<rect x="731.0" y="350.2" width="3" height="7.0" fill="#cc503c"/>
<rect x="732.0" y="351.2" width="1" height="5.0" fill="#d6604c"/>
<rect x="736.0" y="336.2" width="1" height="21.0" fill="#2a7d6c"/>
<rect x="735.0" y="346.0" width="3" height="11.2" fill="#2a7d6c"/>
<rect x="736.0" y="347.0" width="1" height="9.2" fill="#358a76"/>
<rect x="740.0" y="332.2" width="1" height="21.3" fill="#2a7d6c"/>
<rect x="739.0" y="337.2" width="3" height="9.3" fill="#2a7d6c"/>
<rect x="740.0" y="338.2" width="1" height="7.3" fill="#358a76"/>
<rect x="745.0" y="304.4" width="1" height="31.6" fill="#2a7d6c"/>
<rect x="744.0" y="326.6" width="3" height="9.4" fill="#2a7d6c"/>
<rect x="745.0" y="327.6" width="1" height="7.4" fill="#358a76"/>
<rect x="749.0" y="255.4" width="1" height="73.0" fill="#2a7d6c"/>
<rect x="748.0" y="309.5" width="3" height="17.7" fill="#2a7d6c"/>
<rect x="749.0" y="310.5" width="1" height="15.7" fill="#358a76"/>
<rect x="753.0" y="272.2" width="1" height="43.2" fill="#2a7d6c"/>
<rect x="752.0" y="289.6" width="3" height="19.9" fill="#2a7d6c"/>
<rect x="753.0" y="290.6" width="1" height="17.9" fill="#358a76"/>
<rect x="758.0" y="271.3" width="1" height="18.1" fill="#2a7d6c"/>
<rect x="757.0" y="279.4" width="3" height="10.0" fill="#2a7d6c"/>
<rect x="758.0" y="280.4" width="1" height="8.0" fill="#358a76"/>
<rect x="762.0" y="259.7" width="1" height="23.3" fill="#2a7d6c"/>
<rect x="761.0" y="277.4" width="3" height="5.6" fill="#2a7d6c"/>
<rect x="762.0" y="278.4" width="1" height="3.6" fill="#358a76"/>
<rect x="766.0" y="270.3" width="1" height="11.1" fill="#2a7d6c"/>
<rect x="765.0" y="273.5" width="3" height="3.7" fill="#2a7d6c"/>
<rect x="766.0" y="274.5" width="1" height="1.7" fill="#358a76"/>
<rect x="770.0" y="265.3" width="1" height="18.1" fill="#2a7d6c"/>
<rect x="769.0" y="269.4" width="3" height="3.6" fill="#2a7d6c"/>
<rect x="770.0" y="270.4" width="1" height="1.6" fill="#358a76"/>
<rect x="775.0" y="236.7" width="1" height="41.8" fill="#2a7d6c"/>
<rect x="774.0" y="249.8" width="3" height="19.3" fill="#2a7d6c"/>
<rect x="775.0" y="250.8" width="1" height="17.3" fill="#358a76"/>
<rect x="779.0" y="209.8" width="1" height="58.6" fill="#2a7d6c"/>
<rect x="778.0" y="228.4" width="3" height="20.8" fill="#2a7d6c"/>
<rect x="779.0" y="229.4" width="1" height="18.8" fill="#358a76"/>
<rect x="783.0" y="226.8" width="1" height="30.5" fill="#cc503c"/>
<rect x="782.0" y="228.0" width="3" height="10.6" fill="#cc503c"/>
<rect x="783.0" y="229.0" width="1" height="8.6" fill="#d6604c"/>
<rect x="787.0" y="232.4" width="1" height="13.0" fill="#cc503c"/>
<rect x="786.0" y="239.2" width="3" height="1.6" fill="#cc503c"/>
<rect x="792.0" y="239.2" width="1" height="39.3" fill="#cc503c"/>
<rect x="791.0" y="240.5" width="3" height="20.5" fill="#cc503c"/>
<rect x="792.0" y="241.5" width="1" height="18.5" fill="#d6604c"/>
<rect x="796.0" y="250.4" width="1" height="19.0" fill="#2a7d6c"/>
<rect x="795.0" y="253.5" width="3" height="7.5" fill="#2a7d6c"/>
<rect x="796.0" y="254.5" width="1" height="5.5" fill="#358a76"/>
<rect x="800.0" y="239.9" width="1" height="35.7" fill="#cc503c"/>
<rect x="799.0" y="254.1" width="3" height="1.9" fill="#cc503c"/>
<rect x="804.0" y="215.4" width="1" height="49.1" fill="#2a7d6c"/>
<rect x="803.0" y="232.3" width="3" height="21.8" fill="#2a7d6c"/>
<rect x="804.0" y="233.3" width="1" height="19.8" fill="#358a76"/>
<rect x="809.0" y="225.4" width="1" height="74.2" fill="#cc503c"/>
<rect x="808.0" y="233.0" width="3" height="36.1" fill="#cc503c"/>
<rect x="809.0" y="234.0" width="1" height="34.1" fill="#d6604c"/>
<rect x="813.0" y="259.7" width="1" height="30.8" fill="#cc503c"/>
<rect x="812.0" y="269.4" width="3" height="19.0" fill="#cc503c"/>
<rect x="813.0" y="270.4" width="1" height="17.0" fill="#d6604c"/>
<rect x="817.0" y="273.4" width="1" height="16.2" fill="#2a7d6c"/>
<rect x="816.0" y="286.8" width="3" height="1.8" fill="#2a7d6c"/>
<rect x="821.0" y="282.4" width="1" height="24.6" fill="#cc503c"/>
<rect x="820.0" y="286.8" width="3" height="19.0" fill="#cc503c"/>
<rect x="821.0" y="287.8" width="1" height="17.0" fill="#d6604c"/>
<rect x="826.0" y="293.4" width="1" height="24.4" fill="#2a7d6c"/>
<rect x="825.0" y="301.7" width="3" height="3.7" fill="#2a7d6c"/>
<rect x="826.0" y="302.7" width="1" height="1.7" fill="#358a76"/>
<rect x="830.0" y="239.2" width="1" height="67.5" fill="#2a7d6c"/>
<rect x="829.0" y="255.8" width="3" height="45.0" fill="#2a7d6c"/>
<rect x="830.0" y="256.8" width="1" height="43.0" fill="#358a76"/>
<rect x="834.0" y="238.4" width="1" height="22.0" fill="#2a7d6c"/>
<rect x="833.0" y="244.8" width="3" height="9.3" fill="#2a7d6c"/>
<rect x="834.0" y="245.8" width="1" height="7.3" fill="#358a76"/>
<rect x="838.0" y="233.4" width="1" height="12.9" fill="#2a7d6c"/>
<rect x="837.0" y="237.4" width="3" height="6.8" fill="#2a7d6c"/>
<rect x="838.0" y="238.4" width="1" height="4.8" fill="#358a76"/>
<rect x="843.0" y="224.4" width="1" height="22.3" fill="#cc503c"/>
<rect x="842.0" y="237.4" width="3" height="8.0" fill="#cc503c"/>
<rect x="843.0" y="238.4" width="1" height="6.0" fill="#d6604c"/>
<rect x="847.0" y="244.2" width="1" height="21.5" fill="#cc503c"/>
<rect x="846.0" y="245.4" width="3" height="19.1" fill="#cc503c"/>
<rect x="847.0" y="246.4" width="1" height="17.1" fill="#d6604c"/>
<rect x="851.0" y="262.8" width="1" height="19.9" fill="#cc503c"/>
<rect x="850.0" y="264.5" width="3" height="8.6" fill="#cc503c"/>
<rect x="851.0" y="265.5" width="1" height="6.6" fill="#d6604c"/>
<rect x="855.0" y="264.1" width="1" height="41.7" fill="#2a7d6c"/>
<rect x="854.0" y="266.6" width="3" height="6.5" fill="#2a7d6c"/>
<rect x="855.0" y="267.6" width="1" height="4.5" fill="#358a76"/>
<rect x="860.0" y="225.4" width="1" height="40.6" fill="#2a7d6c"/>
<rect x="859.0" y="232.4" width="3" height="33.6" fill="#2a7d6c"/>
<rect x="860.0" y="233.4" width="1" height="31.6" fill="#358a76"/>
<rect x="864.0" y="221.2" width="1" height="17.2" fill="#cc503c"/>
<rect x="863.0" y="232.6" width="3" height="1.4" fill="#cc503c"/>
<rect x="868.0" y="213.5" width="1" height="22.0" fill="#2a7d6c"/>
<rect x="867.0" y="214.1" width="3" height="20.3" fill="#2a7d6c"/>
<rect x="868.0" y="215.1" width="1" height="18.3" fill="#358a76"/>
<rect x="872.0" y="213.5" width="1" height="29.9" fill="#cc503c"/>
<rect x="871.0" y="214.8" width="3" height="22.2" fill="#cc503c"/>
<rect x="872.0" y="215.8" width="1" height="20.2" fill="#d6604c"/>
<rect x="877.0" y="229.2" width="1" height="38.1" fill="#2a7d6c"/>
<rect x="876.0" y="234.3" width="3" height="3.9" fill="#2a7d6c"/>
<rect x="877.0" y="235.3" width="1" height="1.9" fill="#358a76"/>
<rect x="881.0" y="230.3" width="1" height="101.0" fill="#cc503c"/>
<rect x="880.0" y="234.3" width="3" height="88.5" fill="#cc503c"/>
<rect x="881.0" y="235.3" width="1" height="86.5" fill="#d6604c"/>
<rect x="885.0" y="303.3" width="1" height="28.0" fill="#cc503c"/>
<rect x="884.0" y="323.6" width="3" height="7.7" fill="#cc503c"/>
<rect x="885.0" y="324.6" width="1" height="5.7" fill="#d6604c"/>
<rect x="890.0" y="327.3" width="1" height="11.1" fill="#cc503c"/>
<rect x="889.0" y="331.5" width="3" height="1.0" fill="#cc503c"/>
<rect x="894.0" y="319.0" width="1" height="13.2" fill="#2a7d6c"/>
<rect x="893.0" y="319.5" width="3" height="12.7" fill="#2a7d6c"/>
<rect x="894.0" y="320.5" width="1" height="10.7" fill="#358a76"/>
<rect x="898.0" y="299.7" width="1" height="24.4" fill="#2a7d6c"/>
<rect x="897.0" y="303.6" width="3" height="16.2" fill="#2a7d6c"/>
<rect x="898.0" y="304.6" width="1" height="14.2" fill="#358a76"/>
<rect x="902.0" y="299.7" width="1" height="20.7" fill="#cc503c"/>
<rect x="901.0" y="303.6" width="3" height="11.2" fill="#cc503c"/>
<rect x="902.0" y="304.6" width="1" height="9.2" fill="#d6604c"/>
<rect x="907.0" y="306.4" width="1" height="29.6" fill="#cc503c"/>
<rect x="906.0" y="314.8" width="3" height="19.9" fill="#cc503c"/>
<rect x="907.0" y="315.8" width="1" height="17.9" fill="#d6604c"/>
<rect x="911.0" y="306.4" width="1" height="44.2" fill="#2a7d6c"/>
<rect x="910.0" y="333.2" width="3" height="1.5" fill="#2a7d6c"/>
<rect x="915.0" y="321.7" width="1" height="27.5" fill="#cc503c"/>
<rect x="914.0" y="334.1" width="3" height="5.0" fill="#cc503c"/>
<rect x="915.0" y="335.1" width="1" height="3.0" fill="#d6604c"/>
<rect x="919.0" y="334.7" width="1" height="9.7" fill="#cc503c"/>
<rect x="918.0" y="339.1" width="3" height="1.2" fill="#cc503c"/>
<rect x="924.0" y="323.5" width="1" height="20.3" fill="#cc503c"/>
<rect x="923.0" y="340.9" width="3" height="2.3" fill="#cc503c"/>
<rect x="928.0" y="330.4" width="1" height="14.9" fill="#2a7d6c"/>
<rect x="927.0" y="332.2" width="3" height="10.2" fill="#2a7d6c"/>
<rect x="928.0" y="333.2" width="1" height="8.2" fill="#358a76"/>
<rect x="932.0" y="327.3" width="1" height="19.8" fill="#2a7d6c"/>
<rect x="931.0" y="331.0" width="3" height="1.8" fill="#2a7d6c"/>
<rect x="936.0" y="288.4" width="1" height="110.0" fill="#2a7d6c"/>
<rect x="935.0" y="322.3" width="3" height="8.7" fill="#2a7d6c"/>
<rect x="936.0" y="323.3" width="1" height="6.7" fill="#358a76"/>
<rect x="941.0" y="302.4" width="1" height="40.0" fill="#cc503c"/>
<rect x="940.0" y="322.3" width="3" height="14.9" fill="#cc503c"/>
<rect x="941.0" y="323.3" width="1" height="12.9" fill="#d6604c"/>
<rect x="945.0" y="328.5" width="1" height="14.3" fill="#2a7d6c"/>
<rect x="944.0" y="335.3" width="3" height="1.9" fill="#2a7d6c"/>
<rect x="949.0" y="311.7" width="1" height="23.6" fill="#2a7d6c"/>
<rect x="948.0" y="313.6" width="3" height="21.7" fill="#2a7d6c"/>
<rect x="949.0" y="314.6" width="1" height="19.7" fill="#358a76"/>
<rect x="953.0" y="294.3" width="1" height="26.1" fill="#2a7d6c"/>
<rect x="952.0" y="296.8" width="3" height="16.2" fill="#2a7d6c"/>
<rect x="953.0" y="297.8" width="1" height="14.2" fill="#358a76"/>
<rect x="958.0" y="273.5" width="1" height="22.9" fill="#2a7d6c"/>
<rect x="957.0" y="275.3" width="3" height="21.1" fill="#2a7d6c"/>
<rect x="958.0" y="276.3" width="1" height="19.1" fill="#358a76"/>
<rect x="962.0" y="242.4" width="1" height="45.9" fill="#2a7d6c"/>
<rect x="961.0" y="263.5" width="3" height="11.2" fill="#2a7d6c"/>
<rect x="962.0" y="264.5" width="1" height="9.2" fill="#358a76"/>
<rect x="966.0" y="252.3" width="1" height="40.2" fill="#cc503c"/>
<rect x="965.0" y="263.5" width="3" height="16.2" fill="#cc503c"/>
<rect x="966.0" y="264.5" width="1" height="14.2" fill="#d6604c"/>
<rect x="970.0" y="278.2" width="1" height="12.0" fill="#cc503c"/>
<rect x="969.0" y="280.9" width="3" height="6.0" fill="#cc503c"/>
<rect x="970.0" y="281.9" width="1" height="4.0" fill="#d6604c"/>
<rect x="975.0" y="272.2" width="1" height="35.2" fill="#cc503c"/>
<rect x="974.0" y="287.5" width="3" height="8.4" fill="#cc503c"/>
<rect x="975.0" y="288.5" width="1" height="6.4" fill="#d6604c"/>
<rect x="979.0" y="284.4" width="1" height="19.9" fill="#cc503c"/>
<rect x="978.0" y="295.9" width="3" height="5.3" fill="#cc503c"/>
<rect x="979.0" y="296.9" width="1" height="3.3" fill="#d6604c"/>
<rect x="983.0" y="289.3" width="1" height="30.7" fill="#2a7d6c"/>
<rect x="982.0" y="294.7" width="3" height="7.1" fill="#2a7d6c"/>
<rect x="983.0" y="295.7" width="1" height="5.1" fill="#358a76"/>
<rect x="987.0" y="204.7" width="1" height="92.7" fill="#2a7d6c"/>
<rect x="986.0" y="232.4" width="3" height="61.5" fill="#2a7d6c"/>
<rect x="987.0" y="233.4" width="1" height="59.5" fill="#358a76"/>
<rect x="992.0" y="216.1" width="1" height="41.8" fill="#cc503c"/>
<rect x="991.0" y="232.4" width="3" height="22.4" fill="#cc503c"/>
<rect x="992.0" y="233.4" width="1" height="20.4" fill="#d6604c"/>
<rect x="996.0" y="211.7" width="1" height="43.4" fill="#2a7d6c"/>
<rect x="995.0" y="211.7" width="3" height="43.4" fill="#2a7d6c"/>
<rect x="996.0" y="212.7" width="1" height="41.4" fill="#358a76"/>
<rect x="1000.0" y="201.8" width="1" height="17.8" fill="#2a7d6c"/>
<rect x="999.0" y="201.8" width="3" height="9.3" fill="#2a7d6c"/>
<rect x="1000.0" y="202.8" width="1" height="7.3" fill="#358a76"/>
<rect x="1004.0" y="196.0" width="1" height="6.4" fill="#2a7d6c"/>
<rect x="1003.0" y="201.3" width="3" height="1.0" fill="#2a7d6c"/>
</g>
<line x1="149" y1="13.5" x2="1137" y2="13.5" stroke="#000" stroke-width="1"/>
<text x="148.8" y="11" font-size="11" fill="#000" stroke="#000" stroke-width="0.1">100.0%</text>
<line x1="149" y1="164.5" x2="1137" y2="164.5" stroke="#000" stroke-width="1"/>
<text x="148.8" y="163" font-size="11" fill="#000" stroke="#000" stroke-width="0.1">61.8%</text>
<line x1="149" y1="211.5" x2="1137" y2="211.5" stroke="#000" stroke-width="1"/>
<text x="148.8" y="210" font-size="11" fill="#000" stroke="#000" stroke-width="0.1">50.0%</text>
<line x1="149" y1="258.5" x2="1137" y2="258.5" stroke="#000" stroke-width="1"/>
<text x="148.8" y="256" font-size="11" fill="#000" stroke="#000" stroke-width="0.1">38.2%</text>
<line x1="149" y1="316.5" x2="1137" y2="316.5" stroke="#000" stroke-width="1"/>
<text x="148.8" y="314" font-size="11" fill="#000" stroke="#000" stroke-width="0.1">23.6%</text>
<line x1="149" y1="409.5" x2="1137" y2="409.5" stroke="#000" stroke-width="1"/>
<text x="148.8" y="408" font-size="11" fill="#000" stroke="#000" stroke-width="0.1">0.0%</text>
<line x1="0" y1="201.5" x2="1136" y2="201.5" stroke="#3a5785" stroke-width="1"/>
<polyline points="0,193.2 8.7,193.2 12.4,192.3 24.9,189.2 37.3,186.1 49.7,181.1 62.1,176.8 74.6,173.7 87,170.6 99.4,166.8 111.9,163.1 124.3,160 136.7,156.9 149.1,153.4 156.2,150.6 162.4,148.3 168.6,146.9 181.1,145 193.5,143.5 205.9,142 212.1,141 218.3,139.8 224.6,139.5 237,139.1 249.4,138.8 261.8,138.3 274.3,137.3 288,136.4 302.4,135.3 314.9,134.6 327.3,134.9 339.7,136.4 352.1,137.4 364.6,139.9 377,142.1 383.2,143 395.6,143.3 408.1,143.8 420.5,144.6 432.9,145.4 440,145.4 452.4,144.2 459.9,143.8 465.5,144.1 471.1,144.8 483.5,147.1 495.9,150.4 508.3,154.1 520.8,158.0 533.2,161.6 545.6,165 558.1,168.2 570.5,171.4 582.9,174.9 591.1,177.5 597.3,180.1 609.7,183.9 622.1,188 634.6,191.3 647,194.2 659.4,196 669.4,197.5 678.1,201 684.3,203.7 696.7,209.1 709.1,214.1 724.3,220.6 736.7,225.0 749.1,228.7 764.9,232.4 777.3,234.9 789.7,237.1 802.1,239.2 814.6,243 827,245.8 839.4,247.9 851.8,250 864.3,251.3 876.7,252.3 882.4,253 894.9,256.1 907.3,259.8 919.7,262.9 932.1,265.8 944.6,268.2 957,270.4 969.4,272.5 981.8,274.7 994.3,276.9 1004.8,279.1" fill="none" stroke="#0a14ff" stroke-width="2.2" stroke-linejoin="round" stroke-linecap="round"/>
<line x1="455.0" y1="165.9" x2="1066.2" y2="234.0" stroke="#e8590c" stroke-width="2.2" stroke-dasharray="5,5"/>
<line x1="586.7" y1="212.8" x2="1072.1" y2="203.8" stroke="#000" stroke-width="2.2" stroke-dasharray="5,5"/>
<line x1="937.3" y1="398.5" x2="1072.6" y2="176.3" stroke="#80f000" stroke-width="2" stroke-linecap="round"/>
<text x="477" y="142.6" font-size="14" fill="#6a3fc4">200-SMA</text>
<rect x="5" y="5" width="79" height="20.7" fill="#000000" fill-opacity="0.61"/>
<rect x="5" y="5" width="2" height="20.7" fill="#2a7d6c"/>
<text x="15.8" y="20" font-size="10.85" font-weight="bold" fill="#ffffff">USD/CAD</text>
<rect x="5" y="32" width="90" height="20.7" fill="#000000" fill-opacity="0.61"/>
<rect x="5" y="32" width="2" height="20.7" fill="#0a14ff"/>
<text x="15.8" y="46" font-size="10.85" font-weight="bold" fill="#ffffff">SMA (200,0)</text>
<line x1="1137" y1="23.5" x2="1142" y2="23.5" stroke="#999" stroke-width="1"/>
<text x="1144.4" y="27" font-size="10.8" fill="#555555">1.3675</text>
<line x1="1137" y1="46.5" x2="1142" y2="46.5" stroke="#999" stroke-width="1"/>
<text x="1144.4" y="50" font-size="10.8" fill="#555555">1.3650</text>
<line x1="1137" y1="70.5" x2="1142" y2="70.5" stroke="#999" stroke-width="1"/>
<text x="1144.4" y="74" font-size="10.8" fill="#555555">1.3625</text>
<line x1="1137" y1="93.5" x2="1142" y2="93.5" stroke="#999" stroke-width="1"/>
<text x="1144.4" y="97" font-size="10.8" fill="#555555">1.3600</text>
<line x1="1137" y1="116.5" x2="1142" y2="116.5" stroke="#999" stroke-width="1"/>
<text x="1144.4" y="121" font-size="10.8" fill="#555555">1.3575</text>
<line x1="1137" y1="140.5" x2="1142" y2="140.5" stroke="#999" stroke-width="1"/>
<text x="1144.4" y="144" font-size="10.8" fill="#555555">1.3550</text>
<line x1="1137" y1="163.5" x2="1142" y2="163.5" stroke="#999" stroke-width="1"/>
<text x="1144.4" y="167" font-size="10.8" fill="#555555">1.3525</text>
<line x1="1137" y1="186.5" x2="1142" y2="186.5" stroke="#999" stroke-width="1"/>
<text x="1144.4" y="191" font-size="10.8" fill="#555555">1.3500</text>
<line x1="1137" y1="210.5" x2="1142" y2="210.5" stroke="#999" stroke-width="1"/>
<text x="1144.4" y="214" font-size="10.8" fill="#555555">1.3475</text>
<line x1="1137" y1="233.5" x2="1142" y2="233.5" stroke="#999" stroke-width="1"/>
<text x="1144.4" y="237" font-size="10.8" fill="#555555">1.3450</text>
<line x1="1137" y1="256.5" x2="1142" y2="256.5" stroke="#999" stroke-width="1"/>
<text x="1144.4" y="261" font-size="10.8" fill="#555555">1.3425</text>
<line x1="1137" y1="280.5" x2="1142" y2="280.5" stroke="#999" stroke-width="1"/>
<text x="1144.4" y="284" font-size="10.8" fill="#555555">1.3400</text>
<line x1="1137" y1="303.5" x2="1142" y2="303.5" stroke="#999" stroke-width="1"/>
<text x="1144.4" y="308" font-size="10.8" fill="#555555">1.3375</text>
<line x1="1137" y1="327.5" x2="1142" y2="327.5" stroke="#999" stroke-width="1"/>
<text x="1144.4" y="331" font-size="10.8" fill="#555555">1.3350</text>
<line x1="1137" y1="350.5" x2="1142" y2="350.5" stroke="#999" stroke-width="1"/>
<text x="1144.4" y="354" font-size="10.8" fill="#555555">1.3325</text>
<line x1="1137" y1="373.5" x2="1142" y2="373.5" stroke="#999" stroke-width="1"/>
<text x="1144.4" y="378" font-size="10.8" fill="#555555">1.3300</text>
<line x1="1137" y1="397.5" x2="1142" y2="397.5" stroke="#999" stroke-width="1"/>
<text x="1144.4" y="401" font-size="10.8" fill="#555555">1.3275</text>
<line x1="1137" y1="420.5" x2="1142" y2="420.5" stroke="#999" stroke-width="1"/>
<text x="1144.4" y="424" font-size="10.8" fill="#555555">1.3250</text>
<path d="M1137,201.7 L1140,198.6 L1140,195 Q1140,194 1141,194 L1187.5,194 Q1188.5,194 1188.5,195 L1188.5,208.7 Q1188.5,209.7 1187.5,209.7 L1141,209.7 Q1140,209.7 1140,208.7 L1140,204.8 Z" fill="#2e4a75"/>
<text x="1144.5" y="205.8" font-size="11" font-weight="bold" fill="#ffffff">1.34845</text>
<line x1="558" y1="425.5" x2="578" y2="425.5" stroke="#6e6666" stroke-width="1"/>
<line x1="558" y1="427.5" x2="578" y2="427.5" stroke="#6e6666" stroke-width="1"/>
<line x1="558" y1="429.5" x2="578" y2="429.5" stroke="#6e6666" stroke-width="1"/>
<polyline points="0.5,463.83 4.5,465.27 8.5,466.91 12.5,469.10 17.5,471.08 21.5,472.84 25.5,474.15 29.5,475.42 34.5,476.57 38.5,476.46 42.5,475.48 46.5,473.88 51.5,472.10 55.5,470.12 59.5,468.24 63.5,466.76 68.5,465.99 72.5,465.48 76.5,465.15 80.5,464.96 85.5,465.22 89.5,465.41 93.5,465.70 97.5,465.98 102.5,466.26 106.5,466.33 110.5,466.33 114.5,465.90 119.5,465.24 123.5,464.35 127.5,463.49 132.5,462.96 136.5,462.73 140.5,461.44 144.5,459.46 149.5,456.77 153.5,453.66 157.5,450.94 161.5,448.87 166.5,448.21 170.5,448.87 174.5,450.90 178.5,453.67 183.5,456.44 187.5,458.96 191.5,461.36 195.5,462.42 200.5,462.85 204.5,462.94 208.5,463.00 212.5,462.54 217.5,460.87 221.5,460.81 225.5,462.35 229.5,464.68 234.5,467.48 238.5,470.71 242.5,473.98 246.5,477.61 251.5,481.33 255.5,484.89 259.5,487.73 264.5,489.93 268.5,491.45 272.5,492.40 276.5,492.36 281.5,491.83 285.5,490.72 289.5,489.25 293.5,487.63 298.5,485.96 302.5,484.22 306.5,482.61 310.5,480.99 315.5,479.43 319.5,477.83 323.5,476.38 327.5,475.34 332.5,475.21 336.5,475.31 340.5,475.45 344.5,475.93 349.5,476.25 353.5,476.16 357.5,475.90 361.5,475.46 366.5,474.79 370.5,474.51 374.5,474.07 379.5,473.53 383.5,472.80 387.5,471.83 391.5,470.79 396.5,469.67 400.5,468.46 404.5,467.21 408.5,466.44 413.5,465.88 417.5,465.38 421.5,464.94 425.5,464.93 430.5,465.02 434.5,464.75 438.5,463.08 442.5,460.53 447.5,457.48 451.5,454.30 455.5,451.25 459.5,448.54 464.5,446.67 468.5,445.33 472.5,444.51 476.5,444.15 481.5,443.86 485.5,444.32 489.5,445.76 493.5,447.83 498.5,450.36 502.5,452.98 506.5,455.64 511.5,458.11 515.5,460.29 519.5,462.01 523.5,463.57 528.5,465.07 532.5,466.49 536.5,467.78 540.5,468.83 545.5,469.65 549.5,470.12 553.5,470.58 557.5,470.79 562.5,470.74 566.5,469.96 570.5,469.10 574.5,468.23 579.5,467.08 583.5,465.98 587.5,465.03 591.5,464.43 596.5,464.51 600.5,465.22 604.5,465.98 608.5,466.75 613.5,467.73 617.5,468.57 621.5,469.62 625.5,470.62 630.5,471.59 634.5,472.17 638.5,472.24 643.5,472.12 647.5,471.68 651.5,470.49 655.5,468.83 660.5,466.59 664.5,464.06 668.5,460.89 672.5,458.94 677.5,458.41 681.5,458.76 685.5,459.60 689.5,460.71 694.5,461.99 698.5,463.07 702.5,464.22 706.5,465.72 711.5,467.22 715.5,468.56 719.5,469.84 723.5,470.63 728.5,470.75 732.5,470.53 736.5,469.91 740.5,468.91 745.5,467.56 749.5,465.78 753.5,463.52 758.5,460.92 762.5,458.20 766.5,455.50 770.5,452.89 775.5,450.21 779.5,447.32 783.5,444.63 787.5,442.27 792.5,440.56 796.5,439.29 800.5,438.42 804.5,437.56 809.5,437.33 813.5,437.83 817.5,438.77 821.5,440.27 826.5,442.02 830.5,443.20 834.5,443.84 838.5,444.03 843.5,444.08 847.5,444.34 851.5,444.87 855.5,445.48 860.5,445.65 864.5,445.57 868.5,445.09 872.5,444.73 877.5,444.47 881.5,445.58 885.5,447.65 890.5,450.25 894.5,452.87 898.5,455.15 902.5,457.27 907.5,459.45 911.5,461.55 915.5,463.55 919.5,465.39 924.5,467.05 928.5,468.34 932.5,469.29 936.5,469.81 941.5,470.24 945.5,470.52 949.5,470.35 953.5,469.64 958.5,468.29 962.5,466.41 966.5,464.52 970.5,462.80 975.5,461.40 979.5,460.34 983.5,459.44 987.5,457.80 992.5,456.10 996.5,453.82 1000.5,451.18 1004.5,448.45" fill="none" stroke="#ff7f27" stroke-width="1.15" stroke-linejoin="round"/>
<polyline points="0.5,468.81 4.5,471.04 8.5,473.44 12.5,477.85 17.5,479.04 21.5,479.84 25.5,479.41 29.5,480.49 34.5,481.19 38.5,476.03 42.5,471.56 46.5,467.45 51.5,464.98 55.5,462.21 59.5,460.74 63.5,460.83 68.5,462.92 72.5,463.42 76.5,463.85 80.5,464.20 85.5,466.27 89.5,466.15 93.5,466.88 97.5,467.08 102.5,467.39 106.5,466.60 110.5,466.31 114.5,464.19 119.5,462.61 123.5,460.80 127.5,460.04 132.5,460.86 136.5,461.81 140.5,456.29 144.5,451.50 149.5,446.05 153.5,441.19 157.5,440.09 161.5,440.58 166.5,445.57 170.5,451.51 174.5,459.00 178.5,464.78 183.5,467.50 187.5,469.06 191.5,470.93 195.5,466.66 200.5,464.60 204.5,463.31 208.5,463.22 212.5,460.70 217.5,454.22 221.5,460.53 225.5,468.52 229.5,474.02 234.5,478.69 238.5,483.63 242.5,487.07 246.5,492.09 251.5,496.21 255.5,499.14 259.5,499.07 264.5,498.77 268.5,497.52 272.5,496.20 276.5,492.20 281.5,489.72 285.5,486.29 289.5,483.36 293.5,481.13 298.5,479.28 302.5,477.28 306.5,476.17 310.5,474.49 315.5,473.17 319.5,471.46 323.5,470.58 327.5,471.18 332.5,474.68 336.5,475.74 340.5,476.00 344.5,477.84 349.5,477.51 353.5,475.84 357.5,474.82 361.5,473.70 366.5,472.14 370.5,473.37 374.5,472.32 379.5,471.38 383.5,469.87 387.5,467.96 391.5,466.62 396.5,465.19 400.5,463.60 404.5,462.21 408.5,463.37 413.5,463.65 417.5,463.38 421.5,463.18 425.5,464.87 430.5,465.41 434.5,463.66 438.5,456.42 442.5,450.30 447.5,445.28 451.5,441.61 455.5,439.01 459.5,437.73 464.5,439.17 468.5,439.98 472.5,441.20 476.5,442.71 481.5,442.71 485.5,446.15 489.5,451.54 493.5,456.11 498.5,460.45 502.5,463.48 506.5,466.27 511.5,468.02 515.5,468.97 519.5,468.91 523.5,469.79 528.5,471.07 532.5,472.16 536.5,472.95 540.5,473.04 545.5,472.92 549.5,471.98 553.5,472.43 557.5,471.63 562.5,470.57 566.5,466.83 570.5,465.63 574.5,464.76 579.5,462.48 583.5,461.57 587.5,461.25 591.5,462.04 596.5,464.81 600.5,468.07 604.5,469.00 608.5,469.85 613.5,471.62 617.5,471.96 621.5,473.82 625.5,474.63 630.5,475.44 634.5,474.52 638.5,472.52 643.5,471.64 647.5,469.92 651.5,465.72 655.5,462.18 660.5,457.63 664.5,453.97 668.5,448.17 672.5,451.18 677.5,456.27 681.5,460.16 685.5,462.97 689.5,465.14 694.5,467.13 698.5,467.37 702.5,468.84 706.5,471.70 711.5,473.23 715.5,473.91 719.5,474.96 723.5,473.77 728.5,471.26 732.5,469.64 736.5,467.42 740.5,464.94 745.5,462.14 749.5,458.66 753.5,454.49 758.5,450.52 762.5,447.34 766.5,444.69 770.5,442.46 775.5,439.47 779.5,435.79 783.5,433.88 787.5,432.82 792.5,433.73 796.5,434.17 800.5,434.96 804.5,434.13 809.5,436.40 813.5,439.81 817.5,442.57 821.5,446.27 826.5,449.00 830.5,447.93 834.5,446.40 838.5,444.80 843.5,444.27 847.5,445.38 851.5,447.00 855.5,447.93 860.5,446.30 864.5,445.26 868.5,443.15 872.5,443.32 877.5,443.41 881.5,450.04 885.5,455.92 890.5,460.64 894.5,463.36 898.5,464.28 902.5,465.73 907.5,468.21 911.5,469.92 915.5,471.54 919.5,472.74 924.5,473.72 928.5,473.50 932.5,473.07 936.5,471.92 941.5,471.93 945.5,471.64 949.5,469.68 953.5,466.80 958.5,462.88 962.5,458.90 966.5,456.93 970.5,455.92 975.5,455.79 979.5,456.09 983.5,455.88 987.5,451.23 992.5,449.28 996.5,444.73 1000.5,440.60 1004.5,437.52" fill="none" stroke="#2a3cff" stroke-width="1.15" stroke-linejoin="round"/>
<g id="hist">
<rect x="-1.0" y="457.5" width="3" height="4.98" fill="#ff0000"/>
<rect x="3.0" y="457.5" width="3" height="5.77" fill="#ff0000"/>
<rect x="7.0" y="457.5" width="3" height="6.53" fill="#ff0000"/>
<rect x="11.0" y="457.5" width="3" height="8.75" fill="#ff0000"/>
<rect x="16.0" y="457.5" width="3" height="7.95" fill="#ff0000"/>
<rect x="20.0" y="457.5" width="3" height="7.01" fill="#ff0000"/>
<rect x="24.0" y="457.5" width="3" height="5.26" fill="#ff0000"/>
<rect x="28.0" y="457.5" width="3" height="5.07" fill="#ff0000"/>
<rect x="33.0" y="457.5" width="3" height="4.61" fill="#ff0000"/>
<rect x="37.0" y="457.06" width="3" height="0.44" fill="#00f000"/>
<rect x="41.0" y="453.58" width="3" height="3.92" fill="#00f000"/>
<rect x="45.0" y="451.07" width="3" height="6.43" fill="#00f000"/>
<rect x="50.0" y="450.39" width="3" height="7.11" fill="#00f000"/>
<rect x="54.0" y="449.59" width="3" height="7.91" fill="#00f000"/>
<rect x="58.0" y="449.99" width="3" height="7.51" fill="#00f000"/>
<rect x="62.0" y="451.57" width="3" height="5.93" fill="#00f000"/>
<rect x="67.0" y="454.43" width="3" height="3.07" fill="#00f000"/>
<rect x="71.0" y="455.44" width="3" height="2.06" fill="#00f000"/>
<rect x="75.0" y="456.19" width="3" height="1.31" fill="#00f000"/>
<rect x="79.0" y="456.74" width="3" height="0.76" fill="#00f000"/>
<rect x="84.0" y="457.5" width="3" height="1.05" fill="#ff0000"/>
<rect x="88.0" y="457.5" width="3" height="0.74" fill="#ff0000"/>
<rect x="92.0" y="457.5" width="3" height="1.18" fill="#ff0000"/>
<rect x="96.0" y="457.5" width="3" height="1.10" fill="#ff0000"/>
<rect x="101.0" y="457.5" width="3" height="1.13" fill="#ff0000"/>
<rect x="105.0" y="457.5" width="3" height="0.30" fill="#ff0000"/>
<rect x="109.0" y="457.20" width="3" height="0.30" fill="#00f000"/>
<rect x="113.0" y="455.79" width="3" height="1.71" fill="#00f000"/>
<rect x="118.0" y="454.87" width="3" height="2.63" fill="#00f000"/>
<rect x="122.0" y="453.95" width="3" height="3.55" fill="#00f000"/>
<rect x="126.0" y="454.05" width="3" height="3.45" fill="#00f000"/>
<rect x="131.0" y="455.40" width="3" height="2.10" fill="#00f000"/>
<rect x="135.0" y="456.58" width="3" height="0.92" fill="#00f000"/>
<rect x="139.0" y="452.35" width="3" height="5.15" fill="#00f000"/>
<rect x="143.0" y="449.54" width="3" height="7.96" fill="#00f000"/>
<rect x="148.0" y="446.77" width="3" height="10.73" fill="#00f000"/>
<rect x="152.0" y="445.04" width="3" height="12.46" fill="#00f000"/>
<rect x="156.0" y="446.64" width="3" height="10.86" fill="#00f000"/>
<rect x="160.0" y="449.21" width="3" height="8.29" fill="#00f000"/>
<rect x="165.0" y="454.86" width="3" height="2.64" fill="#00f000"/>
<rect x="169.0" y="457.5" width="3" height="2.64" fill="#ff0000"/>
<rect x="173.0" y="457.5" width="3" height="8.11" fill="#ff0000"/>
<rect x="177.0" y="457.5" width="3" height="11.11" fill="#ff0000"/>
<rect x="182.0" y="457.5" width="3" height="11.07" fill="#ff0000"/>
<rect x="186.0" y="457.5" width="3" height="10.09" fill="#ff0000"/>
<rect x="190.0" y="457.5" width="3" height="9.57" fill="#ff0000"/>
<rect x="194.0" y="457.5" width="3" height="4.24" fill="#ff0000"/>
<rect x="199.0" y="457.5" width="3" height="1.74" fill="#ff0000"/>
<rect x="203.0" y="457.5" width="3" height="0.36" fill="#ff0000"/>
<rect x="207.0" y="457.5" width="3" height="0.30" fill="#ff0000"/>
<rect x="211.0" y="455.66" width="3" height="1.84" fill="#00f000"/>
<rect x="216.0" y="450.84" width="3" height="6.66" fill="#00f000"/>
<rect x="220.0" y="457.20" width="3" height="0.30" fill="#00f000"/>
<rect x="224.0" y="457.5" width="3" height="6.17" fill="#ff0000"/>
<rect x="228.0" y="457.5" width="3" height="9.33" fill="#ff0000"/>
<rect x="233.0" y="457.5" width="3" height="11.20" fill="#ff0000"/>
<rect x="237.0" y="457.5" width="3" height="12.92" fill="#ff0000"/>
<rect x="241.0" y="457.5" width="3" height="13.09" fill="#ff0000"/>
<rect x="245.0" y="457.5" width="3" height="14.49" fill="#ff0000"/>
<rect x="250.0" y="457.5" width="3" height="14.89" fill="#ff0000"/>
<rect x="254.0" y="457.5" width="3" height="14.25" fill="#ff0000"/>
<rect x="258.0" y="457.5" width="3" height="11.34" fill="#ff0000"/>
<rect x="263.0" y="457.5" width="3" height="8.83" fill="#ff0000"/>
<rect x="267.0" y="457.5" width="3" height="6.07" fill="#ff0000"/>
<rect x="271.0" y="457.5" width="3" height="3.80" fill="#ff0000"/>
<rect x="275.0" y="457.20" width="3" height="0.30" fill="#00f000"/>
<rect x="280.0" y="455.39" width="3" height="2.11" fill="#00f000"/>
<rect x="284.0" y="453.06" width="3" height="4.44" fill="#00f000"/>
<rect x="288.0" y="451.61" width="3" height="5.89" fill="#00f000"/>
<rect x="292.0" y="451.00" width="3" height="6.50" fill="#00f000"/>
<rect x="297.0" y="450.82" width="3" height="6.68" fill="#00f000"/>
<rect x="301.0" y="450.56" width="3" height="6.94" fill="#00f000"/>
<rect x="305.0" y="451.06" width="3" height="6.44" fill="#00f000"/>
<rect x="309.0" y="451.01" width="3" height="6.49" fill="#00f000"/>
<rect x="314.0" y="451.25" width="3" height="6.25" fill="#00f000"/>
<rect x="318.0" y="451.13" width="3" height="6.37" fill="#00f000"/>
<rect x="322.0" y="451.69" width="3" height="5.81" fill="#00f000"/>
<rect x="326.0" y="453.34" width="3" height="4.16" fill="#00f000"/>
<rect x="331.0" y="456.97" width="3" height="0.53" fill="#00f000"/>
<rect x="335.0" y="457.5" width="3" height="0.42" fill="#ff0000"/>
<rect x="339.0" y="457.5" width="3" height="0.55" fill="#ff0000"/>
<rect x="343.0" y="457.5" width="3" height="1.91" fill="#ff0000"/>
<rect x="348.0" y="457.5" width="3" height="1.26" fill="#ff0000"/>
<rect x="352.0" y="457.17" width="3" height="0.33" fill="#00f000"/>
<rect x="356.0" y="456.43" width="3" height="1.07" fill="#00f000"/>
<rect x="360.0" y="455.74" width="3" height="1.76" fill="#00f000"/>
<rect x="365.0" y="454.85" width="3" height="2.65" fill="#00f000"/>
<rect x="369.0" y="456.36" width="3" height="1.14" fill="#00f000"/>
<rect x="373.0" y="455.75" width="3" height="1.75" fill="#00f000"/>
<rect x="378.0" y="455.34" width="3" height="2.16" fill="#00f000"/>
<rect x="382.0" y="454.57" width="3" height="2.93" fill="#00f000"/>
<rect x="386.0" y="453.63" width="3" height="3.87" fill="#00f000"/>
<rect x="390.0" y="453.33" width="3" height="4.17" fill="#00f000"/>
<rect x="395.0" y="453.02" width="3" height="4.48" fill="#00f000"/>
<rect x="399.0" y="452.64" width="3" height="4.86" fill="#00f000"/>
<rect x="403.0" y="452.50" width="3" height="5.00" fill="#00f000"/>
<rect x="407.0" y="454.43" width="3" height="3.07" fill="#00f000"/>
<rect x="412.0" y="455.27" width="3" height="2.23" fill="#00f000"/>
<rect x="416.0" y="455.50" width="3" height="2.00" fill="#00f000"/>
<rect x="420.0" y="455.74" width="3" height="1.76" fill="#00f000"/>
<rect x="424.0" y="457.20" width="3" height="0.30" fill="#00f000"/>
<rect x="429.0" y="457.5" width="3" height="0.39" fill="#ff0000"/>
<rect x="433.0" y="456.41" width="3" height="1.09" fill="#00f000"/>
<rect x="437.0" y="450.83" width="3" height="6.67" fill="#00f000"/>
<rect x="441.0" y="447.27" width="3" height="10.23" fill="#00f000"/>
<rect x="446.0" y="445.30" width="3" height="12.20" fill="#00f000"/>
<rect x="450.0" y="444.80" width="3" height="12.70" fill="#00f000"/>
<rect x="454.0" y="445.27" width="3" height="12.23" fill="#00f000"/>
<rect x="458.0" y="446.69" width="3" height="10.81" fill="#00f000"/>
<rect x="463.0" y="450.00" width="3" height="7.50" fill="#00f000"/>
<rect x="467.0" y="452.15" width="3" height="5.35" fill="#00f000"/>
<rect x="471.0" y="454.19" width="3" height="3.31" fill="#00f000"/>
<rect x="475.0" y="456.06" width="3" height="1.44" fill="#00f000"/>
<rect x="480.0" y="456.35" width="3" height="1.15" fill="#00f000"/>
<rect x="484.0" y="457.5" width="3" height="1.84" fill="#ff0000"/>
<rect x="488.0" y="457.5" width="3" height="5.78" fill="#ff0000"/>
<rect x="492.0" y="457.5" width="3" height="8.27" fill="#ff0000"/>
<rect x="497.0" y="457.5" width="3" height="10.09" fill="#ff0000"/>
<rect x="501.0" y="457.5" width="3" height="10.50" fill="#ff0000"/>
<rect x="505.0" y="457.5" width="3" height="10.63" fill="#ff0000"/>
<rect x="510.0" y="457.5" width="3" height="9.90" fill="#ff0000"/>
<rect x="514.0" y="457.5" width="3" height="8.69" fill="#ff0000"/>
<rect x="518.0" y="457.5" width="3" height="6.90" fill="#ff0000"/>
<rect x="522.0" y="457.5" width="3" height="6.22" fill="#ff0000"/>
<rect x="527.0" y="457.5" width="3" height="6.01" fill="#ff0000"/>
<rect x="531.0" y="457.5" width="3" height="5.67" fill="#ff0000"/>
<rect x="535.0" y="457.5" width="3" height="5.17" fill="#ff0000"/>
<rect x="539.0" y="457.5" width="3" height="4.21" fill="#ff0000"/>
<rect x="544.0" y="457.5" width="3" height="3.27" fill="#ff0000"/>
<rect x="548.0" y="457.5" width="3" height="1.87" fill="#ff0000"/>
<rect x="552.0" y="457.5" width="3" height="1.85" fill="#ff0000"/>
<rect x="556.0" y="457.5" width="3" height="0.84" fill="#ff0000"/>
<rect x="561.0" y="457.20" width="3" height="0.30" fill="#00f000"/>
<rect x="565.0" y="454.37" width="3" height="3.13" fill="#00f000"/>
<rect x="569.0" y="454.04" width="3" height="3.46" fill="#00f000"/>
<rect x="573.0" y="454.03" width="3" height="3.47" fill="#00f000"/>
<rect x="578.0" y="452.90" width="3" height="4.60" fill="#00f000"/>
<rect x="582.0" y="453.09" width="3" height="4.41" fill="#00f000"/>
<rect x="586.0" y="453.72" width="3" height="3.78" fill="#00f000"/>
<rect x="590.0" y="455.11" width="3" height="2.39" fill="#00f000"/>
<rect x="595.0" y="457.5" width="3" height="0.30" fill="#ff0000"/>
<rect x="599.0" y="457.5" width="3" height="2.85" fill="#ff0000"/>
<rect x="603.0" y="457.5" width="3" height="3.02" fill="#ff0000"/>
<rect x="607.0" y="457.5" width="3" height="3.10" fill="#ff0000"/>
<rect x="612.0" y="457.5" width="3" height="3.90" fill="#ff0000"/>
<rect x="616.0" y="457.5" width="3" height="3.38" fill="#ff0000"/>
<rect x="620.0" y="457.5" width="3" height="4.20" fill="#ff0000"/>
<rect x="624.0" y="457.5" width="3" height="4.00" fill="#ff0000"/>
<rect x="629.0" y="457.5" width="3" height="3.86" fill="#ff0000"/>
<rect x="633.0" y="457.5" width="3" height="2.35" fill="#ff0000"/>
<rect x="637.0" y="457.5" width="3" height="0.30" fill="#ff0000"/>
<rect x="642.0" y="457.01" width="3" height="0.49" fill="#00f000"/>
<rect x="646.0" y="455.74" width="3" height="1.76" fill="#00f000"/>
<rect x="650.0" y="452.73" width="3" height="4.77" fill="#00f000"/>
<rect x="654.0" y="450.85" width="3" height="6.65" fill="#00f000"/>
<rect x="659.0" y="448.54" width="3" height="8.96" fill="#00f000"/>
<rect x="663.0" y="447.40" width="3" height="10.10" fill="#00f000"/>
<rect x="667.0" y="444.79" width="3" height="12.71" fill="#00f000"/>
<rect x="671.0" y="449.73" width="3" height="7.77" fill="#00f000"/>
<rect x="676.0" y="455.36" width="3" height="2.14" fill="#00f000"/>
<rect x="680.0" y="457.5" width="3" height="1.40" fill="#ff0000"/>
<rect x="684.0" y="457.5" width="3" height="3.37" fill="#ff0000"/>
<rect x="688.0" y="457.5" width="3" height="4.43" fill="#ff0000"/>
<rect x="693.0" y="457.5" width="3" height="5.14" fill="#ff0000"/>
<rect x="697.0" y="457.5" width="3" height="4.30" fill="#ff0000"/>
<rect x="701.0" y="457.5" width="3" height="4.62" fill="#ff0000"/>
<rect x="705.0" y="457.5" width="3" height="5.98" fill="#ff0000"/>
<rect x="710.0" y="457.5" width="3" height="6.01" fill="#ff0000"/>
<rect x="714.0" y="457.5" width="3" height="5.35" fill="#ff0000"/>
<rect x="718.0" y="457.5" width="3" height="5.12" fill="#ff0000"/>
<rect x="722.0" y="457.5" width="3" height="3.15" fill="#ff0000"/>
<rect x="727.0" y="457.5" width="3" height="0.51" fill="#ff0000"/>
<rect x="731.0" y="456.61" width="3" height="0.89" fill="#00f000"/>
<rect x="735.0" y="455.01" width="3" height="2.49" fill="#00f000"/>
<rect x="739.0" y="453.52" width="3" height="3.98" fill="#00f000"/>
<rect x="744.0" y="452.08" width="3" height="5.42" fill="#00f000"/>
<rect x="748.0" y="450.38" width="3" height="7.12" fill="#00f000"/>
<rect x="752.0" y="448.47" width="3" height="9.03" fill="#00f000"/>
<rect x="757.0" y="447.10" width="3" height="10.40" fill="#00f000"/>
<rect x="761.0" y="446.64" width="3" height="10.86" fill="#00f000"/>
<rect x="765.0" y="446.68" width="3" height="10.82" fill="#00f000"/>
<rect x="769.0" y="447.06" width="3" height="10.44" fill="#00f000"/>
<rect x="774.0" y="446.76" width="3" height="10.74" fill="#00f000"/>
<rect x="778.0" y="445.96" width="3" height="11.54" fill="#00f000"/>
<rect x="782.0" y="446.75" width="3" height="10.75" fill="#00f000"/>
<rect x="786.0" y="448.05" width="3" height="9.45" fill="#00f000"/>
<rect x="791.0" y="450.67" width="3" height="6.83" fill="#00f000"/>
<rect x="795.0" y="452.39" width="3" height="5.11" fill="#00f000"/>
<rect x="799.0" y="454.04" width="3" height="3.46" fill="#00f000"/>
<rect x="803.0" y="454.07" width="3" height="3.43" fill="#00f000"/>
<rect x="808.0" y="456.57" width="3" height="0.93" fill="#00f000"/>
<rect x="812.0" y="457.5" width="3" height="1.98" fill="#ff0000"/>
<rect x="816.0" y="457.5" width="3" height="3.79" fill="#ff0000"/>
<rect x="820.0" y="457.5" width="3" height="6.00" fill="#ff0000"/>
<rect x="825.0" y="457.5" width="3" height="6.98" fill="#ff0000"/>
<rect x="829.0" y="457.5" width="3" height="4.73" fill="#ff0000"/>
<rect x="833.0" y="457.5" width="3" height="2.56" fill="#ff0000"/>
<rect x="837.0" y="457.5" width="3" height="0.77" fill="#ff0000"/>
<rect x="842.0" y="457.5" width="3" height="0.30" fill="#ff0000"/>
<rect x="846.0" y="457.5" width="3" height="1.04" fill="#ff0000"/>
<rect x="850.0" y="457.5" width="3" height="2.13" fill="#ff0000"/>
<rect x="854.0" y="457.5" width="3" height="2.45" fill="#ff0000"/>
<rect x="859.0" y="457.5" width="3" height="0.65" fill="#ff0000"/>
<rect x="863.0" y="457.19" width="3" height="0.31" fill="#00f000"/>
<rect x="867.0" y="455.57" width="3" height="1.93" fill="#00f000"/>
<rect x="871.0" y="456.09" width="3" height="1.41" fill="#00f000"/>
<rect x="876.0" y="456.44" width="3" height="1.06" fill="#00f000"/>
<rect x="880.0" y="457.5" width="3" height="4.45" fill="#ff0000"/>
<rect x="884.0" y="457.5" width="3" height="8.27" fill="#ff0000"/>
<rect x="889.0" y="457.5" width="3" height="10.39" fill="#ff0000"/>
<rect x="893.0" y="457.5" width="3" height="10.49" fill="#ff0000"/>
<rect x="897.0" y="457.5" width="3" height="9.13" fill="#ff0000"/>
<rect x="901.0" y="457.5" width="3" height="8.46" fill="#ff0000"/>
<rect x="906.0" y="457.5" width="3" height="8.75" fill="#ff0000"/>
<rect x="910.0" y="457.5" width="3" height="8.37" fill="#ff0000"/>
<rect x="914.0" y="457.5" width="3" height="8.00" fill="#ff0000"/>
<rect x="918.0" y="457.5" width="3" height="7.36" fill="#ff0000"/>
<rect x="923.0" y="457.5" width="3" height="6.67" fill="#ff0000"/>
<rect x="927.0" y="457.5" width="3" height="5.16" fill="#ff0000"/>
<rect x="931.0" y="457.5" width="3" height="3.78" fill="#ff0000"/>
<rect x="935.0" y="457.5" width="3" height="2.11" fill="#ff0000"/>
<rect x="940.0" y="457.5" width="3" height="1.69" fill="#ff0000"/>
<rect x="944.0" y="457.5" width="3" height="1.12" fill="#ff0000"/>
<rect x="948.0" y="456.83" width="3" height="0.67" fill="#00f000"/>
<rect x="952.0" y="454.66" width="3" height="2.84" fill="#00f000"/>
<rect x="957.0" y="452.09" width="3" height="5.41" fill="#00f000"/>
<rect x="961.0" y="449.99" width="3" height="7.51" fill="#00f000"/>
<rect x="965.0" y="449.92" width="3" height="7.58" fill="#00f000"/>
<rect x="969.0" y="450.62" width="3" height="6.88" fill="#00f000"/>
<rect x="974.0" y="451.90" width="3" height="5.60" fill="#00f000"/>
<rect x="978.0" y="453.26" width="3" height="4.24" fill="#00f000"/>
<rect x="982.0" y="453.93" width="3" height="3.57" fill="#00f000"/>
<rect x="986.0" y="450.93" width="3" height="6.57" fill="#00f000"/>
<rect x="991.0" y="450.68" width="3" height="6.82" fill="#00f000"/>
<rect x="995.0" y="448.41" width="3" height="9.09" fill="#00f000"/>
<rect x="999.0" y="446.92" width="3" height="10.58" fill="#00f000"/>
<rect x="1003.0" y="446.57" width="3" height="10.93" fill="#00f000"/>
</g>
<rect x="5" y="436" width="109" height="21" fill="#000000" fill-opacity="0.61"/>
<rect x="5" y="436" width="2" height="21" fill="#0a14ff"/>
<text x="15.8" y="450" font-size="11" font-weight="bold" fill="#ffffff">MACD (12,26,9)</text>
<line x1="1137" y1="457.5" x2="1142" y2="457.5" stroke="#999" stroke-width="1"/>
<text x="1144" y="462" font-size="10.9" fill="#555555">-0.0000</text>
<line x1="1137" y1="499.5" x2="1142" y2="499.5" stroke="#999" stroke-width="1"/>
<text x="1144" y="504" font-size="10.9" fill="#555555">-0.0050</text>
<text x="0.3" y="516.8" font-size="11" fill="#555555">Dec</text>
<line x1="0" y1="501" x2="0" y2="503" stroke="#555" stroke-width="1"/>
<line x1="34.2" y1="501" x2="34.2" y2="503" stroke="#555" stroke-width="1"/>
<text x="34.2" y="516.8" font-size="11" fill="#555555" text-anchor="middle">28</text>
<line x1="68.2" y1="501" x2="68.2" y2="503" stroke="#555" stroke-width="1"/>
<text x="68.2" y="516.8" font-size="11" fill="#555555" text-anchor="middle">29</text>
<line x1="102.3" y1="501" x2="102.3" y2="503" stroke="#555" stroke-width="1"/>
<text x="102.3" y="516.8" font-size="11" fill="#555555" text-anchor="middle">Jan</text>
<line x1="127.6" y1="501" x2="127.6" y2="503" stroke="#555" stroke-width="1"/>
<text x="127.6" y="516.8" font-size="11" fill="#555555" text-anchor="middle">2</text>
<line x1="153.3" y1="501" x2="153.3" y2="503" stroke="#555" stroke-width="1"/>
<text x="153.3" y="516.8" font-size="11" fill="#555555" text-anchor="middle">3</text>
<line x1="178.5" y1="501" x2="178.5" y2="503" stroke="#555" stroke-width="1"/>
<text x="178.5" y="516.8" font-size="11" fill="#555555" text-anchor="middle">4</text>
<line x1="204.3" y1="501" x2="204.3" y2="503" stroke="#555" stroke-width="1"/>
<text x="204.3" y="516.8" font-size="11" fill="#555555" text-anchor="middle">5</text>
<line x1="229.6" y1="501" x2="229.6" y2="503" stroke="#555" stroke-width="1"/>
<text x="229.6" y="516.8" font-size="11" fill="#555555" text-anchor="middle">6</text>
<line x1="255.2" y1="501" x2="255.2" y2="503" stroke="#555" stroke-width="1"/>
<text x="255.2" y="516.8" font-size="11" fill="#555555" text-anchor="middle">9</text>
<line x1="281.0" y1="501" x2="281.0" y2="503" stroke="#555" stroke-width="1"/>
<text x="281.0" y="516.8" font-size="11" fill="#555555" text-anchor="middle">10</text>
<line x1="306.5" y1="501" x2="306.5" y2="503" stroke="#555" stroke-width="1"/>
<text x="306.5" y="516.8" font-size="11" fill="#555555" text-anchor="middle">11</text>
<line x1="332.2" y1="501" x2="332.2" y2="503" stroke="#555" stroke-width="1"/>
<text x="332.2" y="516.8" font-size="11" fill="#555555" text-anchor="middle">12</text>
<line x1="357.6" y1="501" x2="357.6" y2="503" stroke="#555" stroke-width="1"/>
<text x="357.6" y="516.8" font-size="11" fill="#555555" text-anchor="middle">13</text>
<line x1="383.3" y1="501" x2="383.3" y2="503" stroke="#555" stroke-width="1"/>
<text x="383.3" y="516.8" font-size="11" fill="#555555" text-anchor="middle">16</text>
<line x1="408.9" y1="501" x2="408.9" y2="503" stroke="#555" stroke-width="1"/>
<text x="408.9" y="516.8" font-size="11" fill="#555555" text-anchor="middle">17</text>
<line x1="434.4" y1="501" x2="434.4" y2="503" stroke="#555" stroke-width="1"/>
<text x="434.4" y="516.8" font-size="11" fill="#555555" text-anchor="middle">18</text>
<line x1="460" y1="501" x2="460" y2="503" stroke="#555" stroke-width="1"/>
<text x="460" y="516.8" font-size="11" fill="#555555" text-anchor="middle">19</text>
<line x1="485.5" y1="501" x2="485.5" y2="503" stroke="#555" stroke-width="1"/>
<text x="485.5" y="516.8" font-size="11" fill="#555555" text-anchor="middle">20</text>
<line x1="511.2" y1="501" x2="511.2" y2="503" stroke="#555" stroke-width="1"/>
<text x="511.2" y="516.8" font-size="11" fill="#555555" text-anchor="middle">23</text>
<line x1="536.6" y1="501" x2="536.6" y2="503" stroke="#555" stroke-width="1"/>
<text x="536.6" y="516.8" font-size="11" fill="#555555" text-anchor="middle">24</text>
<line x1="562" y1="501" x2="562" y2="503" stroke="#555" stroke-width="1"/>
<text x="562" y="516.8" font-size="11" fill="#555555" text-anchor="middle">25</text>
<line x1="587.6" y1="501" x2="587.6" y2="503" stroke="#555" stroke-width="1"/>
<text x="587.6" y="516.8" font-size="11" fill="#555555" text-anchor="middle">26</text>
<line x1="613.1" y1="501" x2="613.1" y2="503" stroke="#555" stroke-width="1"/>
<text x="613.1" y="516.8" font-size="11" fill="#555555" text-anchor="middle">27</text>
<line x1="638.6" y1="501" x2="638.6" y2="503" stroke="#555" stroke-width="1"/>
<text x="638.6" y="516.8" font-size="11" fill="#555555" text-anchor="middle">30</text>
<line x1="664.3" y1="501" x2="664.3" y2="503" stroke="#555" stroke-width="1"/>
<text x="664.3" y="516.8" font-size="11" fill="#555555" text-anchor="middle">31</text>
<line x1="685.5" y1="501" x2="685.5" y2="503" stroke="#555" stroke-width="1"/>
<text x="685.5" y="516.8" font-size="11" fill="#555555" text-anchor="middle">Feb</text>
<line x1="710.9" y1="501" x2="710.9" y2="503" stroke="#555" stroke-width="1"/>
<text x="710.9" y="516.8" font-size="11" fill="#555555" text-anchor="middle">2</text>
<line x1="736.4" y1="501" x2="736.4" y2="503" stroke="#555" stroke-width="1"/>
<text x="736.4" y="516.8" font-size="11" fill="#555555" text-anchor="middle">3</text>
<line x1="762.2" y1="501" x2="762.2" y2="503" stroke="#555" stroke-width="1"/>
<text x="762.2" y="516.8" font-size="11" fill="#555555" text-anchor="middle">5</text>
<line x1="787.8" y1="501" x2="787.8" y2="503" stroke="#555" stroke-width="1"/>
<text x="787.8" y="516.8" font-size="11" fill="#555555" text-anchor="middle">6</text>
<line x1="813.3" y1="501" x2="813.3" y2="503" stroke="#555" stroke-width="1"/>
<text x="813.3" y="516.8" font-size="11" fill="#555555" text-anchor="middle">7</text>
<line x1="838.8" y1="501" x2="838.8" y2="503" stroke="#555" stroke-width="1"/>
<text x="838.8" y="516.8" font-size="11" fill="#555555" text-anchor="middle">8</text>
<line x1="864.4" y1="501" x2="864.4" y2="503" stroke="#555" stroke-width="1"/>
<text x="864.4" y="516.8" font-size="11" fill="#555555" text-anchor="middle">9</text>
<line x1="889.9" y1="501" x2="889.9" y2="503" stroke="#555" stroke-width="1"/>
<text x="889.9" y="516.8" font-size="11" fill="#555555" text-anchor="middle">10</text>
<line x1="915.4" y1="501" x2="915.4" y2="503" stroke="#555" stroke-width="1"/>
<text x="915.4" y="516.8" font-size="11" fill="#555555" text-anchor="middle">13</text>
<line x1="941" y1="501" x2="941" y2="503" stroke="#555" stroke-width="1"/>
<text x="941" y="516.8" font-size="11" fill="#555555" text-anchor="middle">14</text>
<line x1="966.4" y1="501" x2="966.4" y2="503" stroke="#555" stroke-width="1"/>
<text x="966.4" y="516.8" font-size="11" fill="#555555" text-anchor="middle">15</text>
<line x1="992.1" y1="501" x2="992.1" y2="503" stroke="#555" stroke-width="1"/>
<text x="992.1" y="516.8" font-size="11" fill="#555555" text-anchor="middle">16</text>
<line x1="1017.7" y1="501" x2="1017.7" y2="503" stroke="#555" stroke-width="1"/>
<text x="1017.7" y="516.8" font-size="11" fill="#555555" text-anchor="middle">17</text>
<line x1="1043.3" y1="501" x2="1043.3" y2="503" stroke="#555" stroke-width="1"/>
<text x="1043.3" y="516.8" font-size="11" fill="#555555" text-anchor="middle">19</text>
<line x1="1068.6" y1="501" x2="1068.6" y2="503" stroke="#555" stroke-width="1"/>
<text x="1068.6" y="516.8" font-size="11" fill="#555555" text-anchor="middle">20</text>
<line x1="1094.2" y1="501" x2="1094.2" y2="503" stroke="#555" stroke-width="1"/>
<text x="1094.2" y="516.8" font-size="11" fill="#555555" text-anchor="middle">21</text>
<line x1="1119.8" y1="501" x2="1119.8" y2="503" stroke="#555" stroke-width="1"/>
<text x="1119.8" y="516.8" font-size="11" fill="#555555" text-anchor="middle">22</text>
</svg></body></html>
